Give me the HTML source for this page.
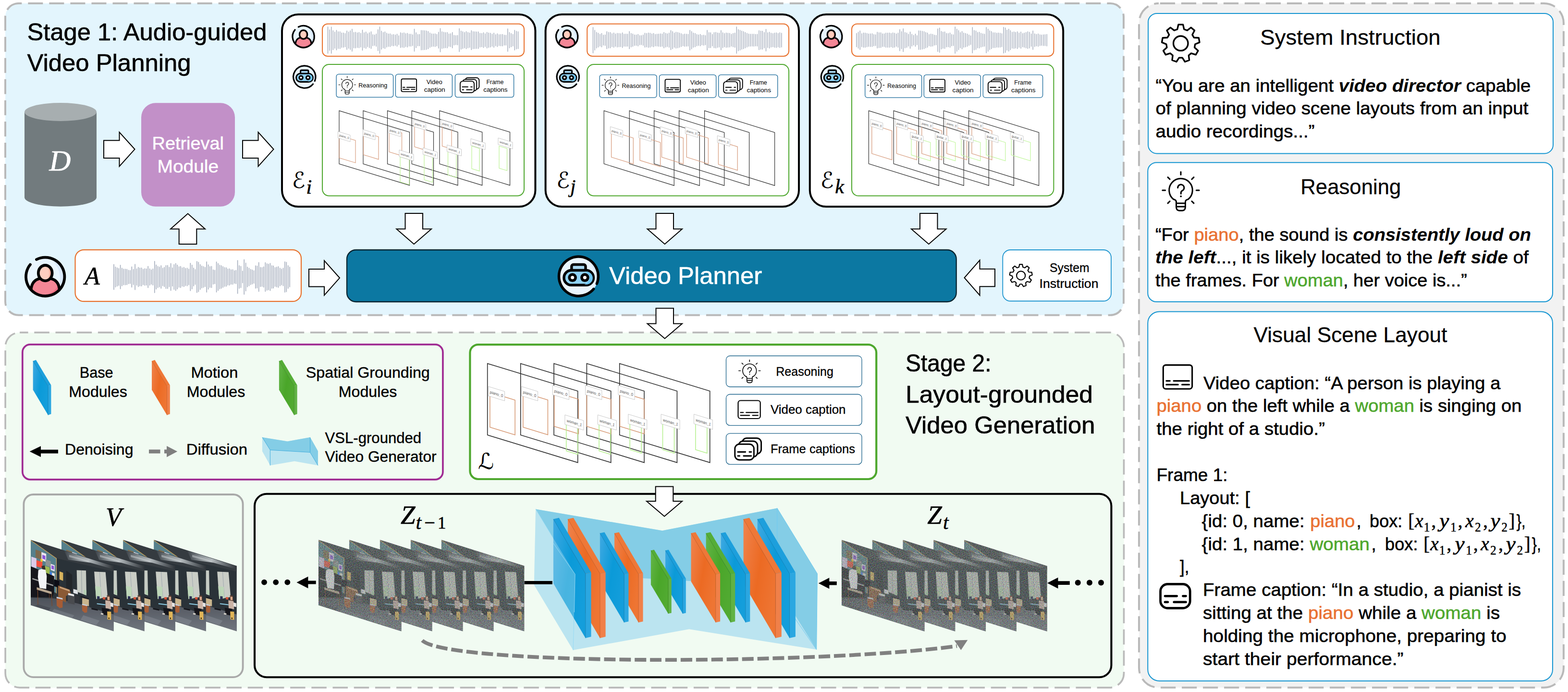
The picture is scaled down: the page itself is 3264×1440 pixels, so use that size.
<!DOCTYPE html>
<html><head><meta charset="utf-8"><title>figure</title>
<style>html,body{margin:0;padding:0;background:#fff;overflow:hidden}svg{display:block}text{white-space:pre}</style>
</head><body>
<svg width="3264" height="1440" viewBox="0 0 3264 1440">
<defs><clipPath id="fc"><polygon points="0,0 172.75,54.3 172.75,190.55 0,136.25"/></clipPath><linearGradient id="ceil" x1="0" y1="0" x2="1" y2="0"><stop offset="0" stop-color="#3b4147"/><stop offset="0.28" stop-color="#8d9498"/><stop offset="0.5" stop-color="#b4babd"/><stop offset="0.75" stop-color="#6a7075"/><stop offset="1" stop-color="#2e3338"/></linearGradient><linearGradient id="flr" x1="0" y1="0" x2="0" y2="1"><stop offset="0" stop-color="#4d525a"/><stop offset="1" stop-color="#70757e"/></linearGradient><g id="scene" clip-path="url(#fc)"><g filter="url(#sblur)"><polygon points="0,0 172.75,54.3 172.75,190.55 0,136.25" fill="#2c3137"/><polygon points="0.0,0.0 172.8,54.3 172.8,66.2 54.5,38.8" fill="#353b41" /><polygon points="69.6,22.7 172.8,55.3 172.8,61.5 124.5,47.7 78.1,41.6" fill="url(#ceil)" /><polygon points="80.0,31.4 120.7,43.5 120.7,46.2 80.0,36.0" fill="#d5dadc" opacity="0.45"/><polygon points="0.0,1.5 53.0,39.4 53.0,110.7 0.0,92.7" fill="#56808c" /><polyline points="0.0,1.1 53.4,39.0 53.4,111.6" fill="none" stroke="#c9a45e" stroke-width="1.3"/><polygon points="10.0,20.4 21.9,24.6 21.9,41.6 10.0,36.9" fill="#7c6b4f" /><polygon points="22.3,25.5 32.2,29.3 32.2,46.4 22.3,42.6" fill="#ece6f0" /><polygon points="24.2,31.2 30.5,33.5 30.5,41.6 24.2,39.4" fill="#8a55d8" /><polygon points="1.1,35.0 11.9,38.8 11.9,59.6 1.1,55.8" fill="#dccbe8" /><polygon points="11.9,42.6 24.2,46.4 24.2,59.0 11.9,55.3" fill="#f4503c" /><polygon points="20.4,39.4 24.6,40.7 24.6,46.4 20.4,45.0" fill="#f7c531" /><polygon points="30.8,40.7 41.6,44.5 41.6,57.1 30.8,53.4" fill="#8d9393" /><polygon points="29.9,54.3 39.4,57.5 39.4,73.4 29.9,70.4" fill="#9db851" /><polygon points="41.6,50.1 49.8,53.0 49.8,65.8 41.6,62.8" fill="#ece6f0" /><polygon points="43.1,53.0 48.4,54.9 48.4,62.4 43.1,60.5" fill="#8a55d8" /><polygon points="39.7,66.2 44.1,67.7 44.1,76.1 39.7,74.6" fill="#3f7fe2" /><polygon points="44.3,68.5 49.8,70.4 49.8,85.5 44.3,83.6" fill="#efebe6" /><polygon points="0.0,55.3 14.8,61.5 48.8,75.7 48.8,109.7 45.0,119.2 0.0,119.2" fill="#14161a" /><polygon points="3.4,79.5 46.9,93.7 46.9,96.5 3.4,82.3" fill="#d8d8d8" opacity="0.7"/><polygon points="22.3,54.9 28.9,53.4 30.8,61.5 24.2,63.4" fill="#3a302c" /><polygon points="15.7,63.4 22.3,60.9 30.8,62.8 33.3,75.7 32.2,102.6 18.5,100.3 14.8,77.6" fill="#f3f4f7" /><polygon points="17.6,100.3 32.2,102.9 34.6,119.2 20.4,117.3" fill="#1b1d22" /><polygon points="12.5,98.8 43.5,108.2 43.5,113.2 12.5,103.7" fill="#b8a68f" /><polyline points="14.4,103.7 15.1,135.3" fill="none" stroke="#7b4a2b" stroke-width="1.2"/><polyline points="43.1,113.2 44.3,138.1" fill="none" stroke="#7b4a2b" stroke-width="1.2"/><polyline points="38.6,111.6 39.2,132.5" fill="none" stroke="#6b3f25" stroke-width="1.0"/><polygon points="0.0,120.2 48.8,122.0 98.0,132.5 135.9,144.7 172.8,155.2 172.8,190.5 0.0,136.2" fill="url(#flr)" /><polygon points="48.8,143.8 90.4,157.0 82.9,168.4 41.2,153.3" fill="#7e848e" opacity="0.5"/><polygon points="109.4,157.0 143.4,168.4 135.9,177.9 103.7,166.5" fill="#868c96" opacity="0.5"/><polygon points="14.8,134.3 41.2,141.9 37.5,147.6 9.1,138.1" fill="#3f444b" opacity="0.6"/><polyline points="14.4,119.2 15.1,135.3" fill="none" stroke="#7b4a2b" stroke-width="1.2"/><polyline points="43.5,119.2 44.3,138.1" fill="none" stroke="#7b4a2b" stroke-width="1.2"/><polygon points="59.8,65.8 67.4,68.5 67.4,85.5 59.8,82.5" fill="#d8b35c" /><polygon points="73.8,64.0 86.1,72.8 86.1,107.9 73.8,100.3" fill="#22262b" /><polygon points="48.8,82.3 59.4,85.5 59.4,100.3 48.8,96.9" fill="#0f1114" /><polygon points="56.8,95.0 81.0,103.7 83.3,111.6 73.4,117.3 73.4,130.6 57.3,123.0" fill="#8b5a35" /><polygon points="60.2,97.4 81.0,104.4 81.0,107.9 60.2,100.3" fill="#c9a27a" /><polygon points="76.3,113.2 91.4,117.3 91.4,134.7 77.2,131.7" fill="#484b4f" /><polygon points="78.1,110.7 90.4,113.9 90.1,117.7 77.6,114.7" fill="#e8e8ea" /><polygon points="88.6,102.2 98.0,105.0 98.0,113.5 88.6,110.7" fill="#dfe2e6" /><polygon points="92.3,115.4 100.9,117.7 100.9,132.5 92.3,130.2" fill="#33363a" /><polygon points="53.5,119.2 66.8,122.6 66.2,141.0 60.2,142.3 54.1,137.2" fill="#a55b35" /><polygon points="53.9,118.6 66.2,121.5 66.6,124.5 53.9,121.5" fill="#c5d2e2" /><polygon points="95.7,63.4 115.0,64.0 116.0,115.8 96.7,108.2" fill="#c6cbc4" /><polyline points="105.6,63.8 106.3,111.6" fill="none" stroke="#8f979c" stroke-width="0.9"/><polygon points="110.3,104.1 116.0,105.6 116.0,115.4 110.3,113.9" fill="#b5cfb2" /><polygon points="132.1,66.2 155.7,67.4 160.1,119.2 136.2,123.4" fill="#c9cdc6" /><polyline points="143.4,67.0 146.8,119.2" fill="none" stroke="#9aa3ab" stroke-width="0.9"/><polygon points="134.0,96.5 145.7,98.0 146.5,122.0 136.2,123.0" fill="#bdd6b8" /><polygon points="138.1,117.3 143.4,117.7 143.4,123.0 138.1,123.0" fill="#2a2d55" /><polygon points="150.0,119.2 155.2,119.6 155.2,124.5 150.0,124.1" fill="#d4553a" /><polygon points="103.7,116.9 120.7,121.5 120.7,124.1 103.7,119.6" fill="#1a1c20" /><polygon points="107.1,120.7 121.1,124.5 121.1,138.5 107.1,134.0" fill="#c9b58d" /><polygon points="106.5,134.0 117.9,136.6 117.3,151.0 112.2,152.1 107.1,147.6" fill="#a85f38" /><polygon points="106.9,133.2 117.7,135.7 117.9,138.1 106.9,135.9" fill="#c5d2e2" /><polygon points="137.7,132.1 155.7,134.3 155.7,136.2 137.7,134.0" fill="#8fd0e8" /><polygon points="126.4,141.9 139.6,144.7 139.6,147.6 126.4,144.7" fill="#15171a" /><polygon points="158.6,115.4 164.6,116.4 165.8,130.6 158.6,128.7" fill="#5a4034" /><polygon points="159.5,118.3 163.9,118.8 163.9,125.8 159.7,125.3" fill="#dcab8e" /><polygon points="155.2,125.8 166.1,127.7 167.3,144.7 155.9,142.3" fill="#ccb4a6" /><polygon points="165.8,130.6 171.8,132.1 171.8,140.0 166.1,138.9" fill="#e6e4e2" /><polygon points="147.6,141.5 163.3,143.8 161.4,158.0 149.5,155.2" fill="#17181b" /><polygon points="146.3,152.3 151.4,153.3 151.0,156.1 145.7,155.2" fill="#d8d4cc" /><polygon points="159.1,149.1 167.3,149.9 167.3,166.9 159.7,165.8" fill="#e1b559" /><polygon points="161.6,161.8 163.9,162.0 163.9,165.0 161.6,164.8" fill="#3a2a18" /></g></g><filter id="sblur" x="-0.02" y="-0.02" width="1.04" height="1.04"><feGaussianBlur stdDeviation="0.45"/></filter><filter id="nz" x="0" y="0" width="1" height="1" color-interpolation-filters="sRGB"><feTurbulence type="fractalNoise" baseFrequency="0.5" numOctaves="2" seed="7" result="t"/><feColorMatrix in="t" type="matrix" values="1.6 0.3 0.3 0 -0.6  0.3 1.6 0.3 0 -0.6  0.3 0.3 1.6 0 -0.6  0 0 0 0 0.29" result="n"/><feComposite in="n" in2="SourceGraphic" operator="in"/></filter><linearGradient id="gb" x1="0" y1="0" x2="1" y2="0.6"><stop offset="0" stop-color="#3fa9e2"/><stop offset="0.55" stop-color="#0b9ad8"/><stop offset="1" stop-color="#149edb"/></linearGradient><linearGradient id="go" x1="0" y1="0" x2="1" y2="0.6"><stop offset="0" stop-color="#f0834d"/><stop offset="0.55" stop-color="#ec6a23"/><stop offset="1" stop-color="#ee7533"/></linearGradient><linearGradient id="gg" x1="0" y1="0" x2="1" y2="0.6"><stop offset="0" stop-color="#64b549"/><stop offset="0.55" stop-color="#4aa629"/><stop offset="1" stop-color="#51aa31"/></linearGradient></defs>
<rect width="3264" height="1440" fill="#fff"/>
<rect x="11.0" y="7.0" width="2328.0" height="648.8" rx="28" fill="#e3f5fd" stroke="#b9b9b9" stroke-width="4" stroke-dasharray="31 13.04" stroke-dashoffset="24.7"/>
<text x="56.5" y="84.0" font-size="50" font-family="Liberation Sans, sans-serif" textLength="499.0" lengthAdjust="spacingAndGlyphs" fill="#000"  stroke="#000" stroke-width="0.60" stroke-linejoin="round">Stage 1: Audio-guided</text>
<text x="56.5" y="148.0" font-size="50" font-family="Liberation Sans, sans-serif" textLength="341.0" lengthAdjust="spacingAndGlyphs" fill="#000"  stroke="#000" stroke-width="0.60" stroke-linejoin="round">Video Planning</text>
<path d="M51 233 V410.7 A75 19 0 0 0 201 410.7 V233 Z" fill="#727b7e"/>
<ellipse cx="126" cy="233" rx="75" ry="19" fill="#a7aeb0"/>
<text x="102.5" y="354.6" font-size="62" font-family="Liberation Serif, serif" font-style="italic" fill="#fff" stroke="#fff" stroke-width="0.7" stroke-linejoin="round">D</text>
<polygon points="216.0,292.3 248.5,292.3 248.5,275.1 280.5,310.6 248.5,346.1 248.5,328.9 216.0,328.9" fill="#fff" stroke="#000" stroke-width="2" stroke-linejoin="miter"/>
<rect x="294.0" y="214.3" width="195.0" height="215.4" rx="30" fill="#c290c8" stroke="none" stroke-width="0" />
<text x="391.3" y="310.8" font-size="37.3" font-family="Liberation Sans, sans-serif" text-anchor="middle" textLength="149.5" lengthAdjust="spacingAndGlyphs" fill="#fff"  stroke="#fff" stroke-width="0.45" stroke-linejoin="round">Retrieval</text>
<text x="391.3" y="358.7" font-size="37.3" font-family="Liberation Sans, sans-serif" text-anchor="middle" textLength="127.5" lengthAdjust="spacingAndGlyphs" fill="#fff"  stroke="#fff" stroke-width="0.45" stroke-linejoin="round">Module</text>
<polygon points="505.0,292.3 537.5,292.3 537.5,275.1 569.5,310.6 537.5,346.1 537.5,328.9 505.0,328.9" fill="#fff" stroke="#000" stroke-width="2" stroke-linejoin="miter"/>
<polygon points="372.7,508.0 372.7,476.5 355.0,476.5 391.0,444.5 427.0,476.5 409.3,476.5 409.3,508.0" fill="#fff" stroke="#000" stroke-width="2"/>
<rect x="587.0" y="30.0" width="527.4" height="400.0" rx="34" fill="#fff" stroke="#000" stroke-width="4" /><g transform="translate(631.6,76.2) scale(0.5638)"><circle r="40.2" fill="#e9f5fe"/><path d="M8 -39 A40.2 40.2 0 0 1 22 33 A52 52 0 0 0 8 -39Z" fill="#d9e9fb"/><path d="M-29.5 26 C-28 12 -21 6 -12 4 L12 4 C21 6 28 12 29.5 26 A40.2 40.2 0 0 1 -29.5 26Z" fill="#f48796"/><path d="M24 22 C20 30 10 36 -2 38 A40.2 40.2 0 0 0 29.5 26 L27 16Z" fill="#ef7085"/><path d="M-29.5 26 C-28 12 -21 6 -12 4 M12 4 C21 6 28 12 29.5 26" fill="none" stroke="#000" stroke-width="5.8" stroke-linecap="round"/><ellipse cx="0" cy="-7.6" rx="14.4" ry="16.2" fill="#ffcebf"/><path d="M3 -23.4 C20 -22 20 7 3 8.2 C10 2 10 -17 3 -23.4Z" fill="#ffb1a0"/><ellipse cx="0" cy="-7.6" rx="14.4" ry="16.2" fill="none" stroke="#000" stroke-width="5.8"/><path d="M-18.25 -35.82A40.20 40.20 0 1 1 -31.24 -25.30" fill="none" stroke="#000" stroke-width="5.8" stroke-linecap="round"/></g><g transform="translate(633.8,160.0) scale(0.5639)"><circle r="41.05" fill="#e9f5fe"/><path d="M14 -38.5 A41 41 0 0 1 30 28 A55 55 0 0 0 14 -38.5Z" fill="#d9e9fb"/><rect x="-14.6" y="-24.6" width="29.2" height="14" rx="4" fill="#a9daf5" stroke="#000" stroke-width="5.5"/><rect x="-30.5" y="-12.5" width="61.6" height="30.9" rx="15.45" fill="#8fd3f6" stroke="#000" stroke-width="5.5"/><path d="M12 -10 A14 14 0 0 1 12 17 L16 17 A13.5 13.5 0 0 0 16 -10Z" fill="#6cc4f2"/><circle cx="-12.8" cy="2.6" r="9.3" fill="#000"/><circle cx="-12.8" cy="2.6" r="3.6" fill="#fff"/><circle cx="13" cy="2.6" r="9.3" fill="#000"/><circle cx="13" cy="2.6" r="3.6" fill="#fff"/><path d="M31.45 26.39A41.05 41.05 0 1 1 38.06 15.38" fill="none" stroke="#000" stroke-width="5.5" stroke-linecap="round"/></g><rect x="671.0" y="49.8" width="420.0" height="67.2" rx="11" fill="#fff" stroke="#e8712d" stroke-width="2" /><path d="M682.5 56.1V111.1M686.1 62.1V105.1M689.7 56.2V111.0M693.3 63.7V103.5M696.9 66.8V100.4M700.5 63.1V104.1M704.1 66.1V101.1M707.7 65.9V101.3M711.3 68.4V98.8M714.9 68.6V98.6M718.5 69.7V97.5M722.1 64.2V103.0M725.7 66.8V100.4M729.3 64.1V103.1M732.9 60.5V106.7M736.5 67.4V99.8M740.1 67.1V100.1M743.7 68.2V99.0M747.3 67.6V99.6M750.9 69.2V98.0M754.5 62.5V104.7M758.1 68.0V99.2M761.7 66.4V100.8M765.3 70.0V97.2M768.9 68.0V99.2M772.5 66.1V101.1M776.1 71.9V95.3M779.7 72.7V94.5M783.3 70.7V96.5M786.9 61.7V105.5M790.5 56.1V111.1M794.1 64.8V102.4M797.7 67.5V99.7M801.3 66.3V100.9M804.9 69.1V98.1M808.5 70.4V96.8M812.1 70.3V96.9M815.7 72.3V94.9M819.3 71.8V95.4M822.9 72.8V94.4M826.5 71.0V96.2M830.1 74.2V93.0M833.7 68.1V99.1M837.3 68.9V98.3M840.9 68.2V99.0M844.5 70.1V97.1M848.1 69.2V98.0M851.7 71.1V96.1M855.3 71.0V96.2M858.9 72.3V94.9M862.5 60.5V106.7M866.1 67.9V99.3M869.7 71.7V95.5M873.3 71.6V95.6M876.9 63.2V104.0M880.5 63.4V103.8M884.1 63.8V103.4M887.7 64.3V102.9M891.3 65.6V101.6M894.9 68.5V98.7M898.5 70.3V96.9M902.1 70.6V96.6M905.7 70.3V96.9M909.3 71.4V95.8M912.9 66.9V100.3M916.5 59.3V107.9M920.1 66.1V101.1M923.7 67.1V100.1M927.3 67.8V99.4M930.9 67.4V99.8M934.5 70.6V96.6M938.1 69.9V97.3M941.7 67.4V99.8M945.3 73.4V93.8M948.9 74.1V93.1M952.5 73.8V93.4M956.1 59.6V107.6M959.7 64.6V102.6M963.3 66.1V101.1M966.9 67.5V99.7M970.5 65.7V101.5M974.1 67.5V99.7M977.7 68.5V98.7M981.3 63.7V103.5M984.9 65.7V101.5M988.5 65.9V101.3M992.1 66.3V100.9M995.7 66.3V100.9M999.3 69.3V97.9M1002.9 69.6V97.6M1006.5 68.1V99.1M1010.1 70.3V96.9M1013.7 67.2V100.0M1017.3 68.5V98.7M1020.9 69.1V98.1M1024.5 71.0V96.2M1028.1 68.8V98.4M1031.7 72.0V95.2M1035.3 70.2V97.0M1038.9 72.1V95.1M1042.5 71.7V95.5M1046.1 71.5V95.7M1049.7 73.1V94.1M1053.3 73.3V93.9M1056.9 60.1V107.1M1060.5 67.5V99.7M1064.1 69.7V97.5M1067.7 71.5V95.7M1071.3 62.9V104.3M1074.9 65.1V102.1M1078.5 66.0V101.2" stroke="#a6aebd" stroke-width="1.5" stroke-opacity="1" fill="none" stroke-linecap="round"/><rect x="671.0" y="134.0" width="420.0" height="273.6" rx="14" fill="#fff" stroke="#4ea72e" stroke-width="2" /><rect x="700.1" y="154.4" width="118.5" height="48.0" rx="5" fill="#fff" stroke="#1a6a9a" stroke-width="1.3" /><rect x="823.4" y="154.4" width="118.0" height="48.0" rx="5" fill="#fff" stroke="#1a6a9a" stroke-width="1.3" /><rect x="947.4" y="154.4" width="122.2" height="48.0" rx="5" fill="#fff" stroke="#1a6a9a" stroke-width="1.3" /><path d="M718.33 192.24 V187.70 Q718.33 185.76 715.65 185.20 A11.20 11.20 0 1 1 729.75 185.20 Q727.07 185.76 727.07 187.70 V192.24" fill="none" stroke="#000" stroke-width="1.2" stroke-linecap="round" stroke-linejoin="round"/><path d="M718.33 188.99H727.07 M718.33 192.24 H727.07 M718.33 192.24 Q718.33 195.99 721.17 195.99 H724.23 Q727.07 195.99 727.07 192.24" fill="none" stroke="#000" stroke-width="1.2" stroke-linecap="round"/><path d="M722.70 161.60L722.70 158.92M733.23 165.97L735.13 164.07M712.17 165.97L710.27 164.07M737.60 176.50L740.28 176.50M707.80 176.50L705.12 176.50M733.23 187.03L735.13 188.93M712.17 187.03L710.27 188.93" stroke="#000" stroke-width="1.2" stroke-linecap="round" fill="none"/><g transform="translate(722.70,176.50) scale(0.4609)"><path d="M-6.3 -5.2A6.6 6.6 0 1 1 4.5 -0.1Q0.3 1.8 0.3 5V7.3" fill="none" stroke="#000" stroke-width="2.60" stroke-linecap="round"/><circle cx="0.2" cy="12.7" r="1.61" fill="#000"/></g><text x="746.3" y="182.2" font-size="13.3" font-family="Liberation Sans, sans-serif" textLength="60.0" lengthAdjust="spacingAndGlyphs" fill="#000" >Reasoning</text><rect x="835.40" y="164.20" width="31.70" height="26.40" rx="3" fill="none" stroke="#000" stroke-width="1.9"/><path d="M838.86 181.73H842.75M846.86 181.73H863.77M838.86 185.87H851.63M856.07 185.87H863.77" stroke="#000" stroke-width="1.99" fill="none" stroke-linecap="round"/><text x="904.2" y="174.6" font-size="13.3" font-family="Liberation Sans, sans-serif" text-anchor="middle" textLength="33.0" lengthAdjust="spacingAndGlyphs" fill="#000" >Video</text><text x="904.7" y="190.8" font-size="13.3" font-family="Liberation Sans, sans-serif" text-anchor="middle" textLength="44.0" lengthAdjust="spacingAndGlyphs" fill="#000" >caption</text><rect x="968.30" y="161.70" width="29.10" height="23.80" rx="5.5" fill="#fff" stroke="#000" stroke-width="1.9"/><rect x="963.10" y="165.30" width="29.10" height="23.80" rx="5.5" fill="#fff" stroke="#000" stroke-width="1.9"/><rect x="957.90" y="168.90" width="29.10" height="23.80" rx="5.5" fill="#fff" stroke="#000" stroke-width="1.9"/><path d="M962.38 180.73H973.99M980.05 180.73H982.87M962.38 186.70H965.12M971.20 186.70H982.87" stroke="#000" stroke-width="1.90" fill="none" stroke-linecap="round"/><text x="1030.4" y="174.6" font-size="13.3" font-family="Liberation Sans, sans-serif" text-anchor="middle" textLength="36.0" lengthAdjust="spacingAndGlyphs" fill="#000" >Frame</text><text x="1031.4" y="190.8" font-size="13.3" font-family="Liberation Sans, sans-serif" text-anchor="middle" textLength="50.5" lengthAdjust="spacingAndGlyphs" fill="#000" >captions</text><polygon points="915.0,230.4 1061.5,275.0 1061.5,385.6 915.0,341.0" fill="none" stroke="#2e2e2e" stroke-width="1.15"/><polygon points="857.2,230.4 1003.7,275.0 1003.7,385.6 857.2,341.0" fill="none" stroke="#2e2e2e" stroke-width="1.15"/><polygon points="806.5,230.4 953.0,275.0 953.0,385.6 806.5,341.0" fill="none" stroke="#2e2e2e" stroke-width="1.15"/><polygon points="756.0,230.4 902.5,275.0 902.5,385.6 756.0,341.0" fill="none" stroke="#2e2e2e" stroke-width="1.15"/><polygon points="706.0,230.4 852.5,275.0 852.5,385.6 706.0,341.0" fill="none" stroke="#2e2e2e" stroke-width="1.15"/><polygon points="706.0,282.0 740.0,292.3 740.0,338.8 706.0,328.5" fill="none" stroke="#d9a184" stroke-width="1.2"/><polygon points="756.5,275.0 788.0,284.6 788.0,331.6 756.5,322.0" fill="none" stroke="#d9a184" stroke-width="1.2"/><polygon points="810.0,268.5 836.5,276.6 836.5,324.1 810.0,316.0" fill="none" stroke="#d9a184" stroke-width="1.2"/><polygon points="863.0,258.5 883.0,264.6 883.0,311.6 863.0,305.5" fill="none" stroke="#d9a184" stroke-width="1.2"/><polygon points="920.5,257.0 940.0,262.9 940.0,309.9 920.5,304.0" fill="none" stroke="#d9a184" stroke-width="1.2"/><polygon points="833.0,326.5 852.0,332.3 852.0,384.3 833.0,378.5" fill="none" stroke="#bdf296" stroke-width="1.2"/><polygon points="883.0,322.0 900.5,327.3 900.5,379.3 883.0,374.0" fill="none" stroke="#bdf296" stroke-width="1.2"/><polygon points="932.5,313.0 950.0,318.3 950.0,369.3 932.5,364.0" fill="none" stroke="#bdf296" stroke-width="1.2"/><polygon points="982.0,304.0 998.0,308.9 998.0,355.9 982.0,351.0" fill="none" stroke="#bdf296" stroke-width="1.2"/><polygon points="1039.0,304.0 1055.5,309.0 1055.5,355.0 1039.0,350.0" fill="none" stroke="#bdf296" stroke-width="1.2"/><polygon points="703.5,273.5 729.0,281.3 729.0,294.9 703.5,287.1" fill="#fff" stroke="#c4c4c4" stroke-width="0.9"/><text transform="matrix(1,0.304,0,1,706.0,283.5)" font-size="6.6" font-family="Liberation Sans, sans-serif" font-style="italic" fill="#555" textLength="20.4" lengthAdjust="spacingAndGlyphs">piano_0</text><polygon points="755.5,269.5 781.0,277.3 781.0,290.9 755.5,283.1" fill="#fff" stroke="#c4c4c4" stroke-width="0.9"/><text transform="matrix(1,0.304,0,1,758.0,279.5)" font-size="6.6" font-family="Liberation Sans, sans-serif" font-style="italic" fill="#555" textLength="20.4" lengthAdjust="spacingAndGlyphs">piano_0</text><polygon points="808.5,263.0 834.0,270.8 834.0,284.4 808.5,276.6" fill="#fff" stroke="#c4c4c4" stroke-width="0.9"/><text transform="matrix(1,0.304,0,1,811.0,273.0)" font-size="6.6" font-family="Liberation Sans, sans-serif" font-style="italic" fill="#555" textLength="20.4" lengthAdjust="spacingAndGlyphs">piano_0</text><polygon points="861.0,249.5 886.5,257.3 886.5,270.9 861.0,263.1" fill="#fff" stroke="#c4c4c4" stroke-width="0.9"/><text transform="matrix(1,0.304,0,1,863.5,259.5)" font-size="6.6" font-family="Liberation Sans, sans-serif" font-style="italic" fill="#555" textLength="20.4" lengthAdjust="spacingAndGlyphs">piano_0</text><polygon points="918.0,249.0 943.5,256.8 943.5,270.4 918.0,262.6" fill="#fff" stroke="#c4c4c4" stroke-width="0.9"/><text transform="matrix(1,0.304,0,1,920.5,259.0)" font-size="6.6" font-family="Liberation Sans, sans-serif" font-style="italic" fill="#555" textLength="20.4" lengthAdjust="spacingAndGlyphs">piano_0</text><polygon points="831.0,312.0 861.0,321.1 861.0,334.9 831.0,325.8" fill="#fff" stroke="#c4c4c4" stroke-width="0.9"/><text transform="matrix(1,0.304,0,1,834.0,322.3)" font-size="6.6" font-family="Liberation Sans, sans-serif" font-style="italic" fill="#555" textLength="24.0" lengthAdjust="spacingAndGlyphs">woman_1</text><polygon points="880.5,307.5 910.5,316.6 910.5,330.4 880.5,321.3" fill="#fff" stroke="#c4c4c4" stroke-width="0.9"/><text transform="matrix(1,0.304,0,1,883.5,317.8)" font-size="6.6" font-family="Liberation Sans, sans-serif" font-style="italic" fill="#555" textLength="24.0" lengthAdjust="spacingAndGlyphs">woman_1</text><polygon points="930.5,301.5 960.5,310.6 960.5,324.4 930.5,315.3" fill="#fff" stroke="#c4c4c4" stroke-width="0.9"/><text transform="matrix(1,0.304,0,1,933.5,311.8)" font-size="6.6" font-family="Liberation Sans, sans-serif" font-style="italic" fill="#555" textLength="24.0" lengthAdjust="spacingAndGlyphs">woman_1</text><polygon points="980.0,288.5 1010.0,297.6 1010.0,311.4 980.0,302.3" fill="#fff" stroke="#c4c4c4" stroke-width="0.9"/><text transform="matrix(1,0.304,0,1,983.0,298.8)" font-size="6.6" font-family="Liberation Sans, sans-serif" font-style="italic" fill="#555" textLength="24.0" lengthAdjust="spacingAndGlyphs">woman_1</text><polygon points="1037.0,287.0 1067.0,296.1 1067.0,309.9 1037.0,300.8" fill="#fff" stroke="#c4c4c4" stroke-width="0.9"/><text transform="matrix(1,0.304,0,1,1040.0,297.3)" font-size="6.6" font-family="Liberation Sans, sans-serif" font-style="italic" fill="#555" textLength="24.0" lengthAdjust="spacingAndGlyphs">woman_1</text><text x="607.5" y="391.2" font-size="46" font-family="DejaVu Sans, DejaVu Serif, serif" fill="#000">ℰ</text>
<rect x="1135.6" y="30.0" width="527.4" height="400.0" rx="34" fill="#fff" stroke="#000" stroke-width="4" /><g transform="translate(1180.2,76.2) scale(0.5638)"><circle r="40.2" fill="#e9f5fe"/><path d="M8 -39 A40.2 40.2 0 0 1 22 33 A52 52 0 0 0 8 -39Z" fill="#d9e9fb"/><path d="M-29.5 26 C-28 12 -21 6 -12 4 L12 4 C21 6 28 12 29.5 26 A40.2 40.2 0 0 1 -29.5 26Z" fill="#f48796"/><path d="M24 22 C20 30 10 36 -2 38 A40.2 40.2 0 0 0 29.5 26 L27 16Z" fill="#ef7085"/><path d="M-29.5 26 C-28 12 -21 6 -12 4 M12 4 C21 6 28 12 29.5 26" fill="none" stroke="#000" stroke-width="5.8" stroke-linecap="round"/><ellipse cx="0" cy="-7.6" rx="14.4" ry="16.2" fill="#ffcebf"/><path d="M3 -23.4 C20 -22 20 7 3 8.2 C10 2 10 -17 3 -23.4Z" fill="#ffb1a0"/><ellipse cx="0" cy="-7.6" rx="14.4" ry="16.2" fill="none" stroke="#000" stroke-width="5.8"/><path d="M-18.25 -35.82A40.20 40.20 0 1 1 -31.24 -25.30" fill="none" stroke="#000" stroke-width="5.8" stroke-linecap="round"/></g><g transform="translate(1182.3,160.0) scale(0.5639)"><circle r="41.05" fill="#e9f5fe"/><path d="M14 -38.5 A41 41 0 0 1 30 28 A55 55 0 0 0 14 -38.5Z" fill="#d9e9fb"/><rect x="-14.6" y="-24.6" width="29.2" height="14" rx="4" fill="#a9daf5" stroke="#000" stroke-width="5.5"/><rect x="-30.5" y="-12.5" width="61.6" height="30.9" rx="15.45" fill="#8fd3f6" stroke="#000" stroke-width="5.5"/><path d="M12 -10 A14 14 0 0 1 12 17 L16 17 A13.5 13.5 0 0 0 16 -10Z" fill="#6cc4f2"/><circle cx="-12.8" cy="2.6" r="9.3" fill="#000"/><circle cx="-12.8" cy="2.6" r="3.6" fill="#fff"/><circle cx="13" cy="2.6" r="9.3" fill="#000"/><circle cx="13" cy="2.6" r="3.6" fill="#fff"/><path d="M31.45 26.39A41.05 41.05 0 1 1 38.06 15.38" fill="none" stroke="#000" stroke-width="5.5" stroke-linecap="round"/></g><rect x="1222.2" y="49.8" width="419.9" height="67.2" rx="11" fill="#fff" stroke="#e8712d" stroke-width="2" /><path d="M1234.5 57.0V110.2M1238.1 63.0V104.2M1241.7 67.3V99.9M1245.3 69.1V98.1M1248.9 71.2V96.0M1252.5 69.4V97.8M1256.1 73.1V94.1M1259.7 72.4V94.8M1263.3 65.8V101.4M1266.9 67.3V99.9M1270.5 67.5V99.7M1274.1 69.9V97.3M1277.7 68.6V98.6M1281.3 70.8V96.4M1284.9 69.2V98.0M1288.5 69.6V97.6M1292.1 69.9V97.3M1295.7 68.3V98.9M1299.3 71.0V96.2M1302.9 70.8V96.4M1306.5 71.0V96.2M1310.1 65.6V101.6M1313.7 69.5V97.7M1317.3 70.7V96.5M1320.9 72.5V94.7M1324.5 72.8V94.4M1328.1 71.4V95.8M1331.7 73.9V93.3M1335.3 74.1V93.1M1338.9 72.8V94.4M1342.5 69.0V98.2M1346.1 69.5V97.7M1349.7 68.5V98.7M1353.3 68.9V98.3M1356.9 70.6V96.6M1360.5 69.6V97.6M1364.1 71.5V95.7M1367.7 71.1V96.1M1371.3 70.8V96.4M1374.9 70.2V97.0M1378.5 70.8V96.4M1382.1 67.4V99.8M1385.7 69.3V97.9M1389.3 70.2V97.0M1392.9 68.8V98.4M1396.5 63.6V103.6M1400.1 65.7V101.5M1403.7 68.7V98.5M1407.3 66.9V100.3M1410.9 67.5V99.7M1414.5 68.8V98.4M1418.1 70.1V97.1M1421.7 71.7V95.5M1425.3 70.8V96.4M1428.9 70.9V96.3M1432.5 71.2V96.0M1436.1 62.9V104.3M1439.7 65.5V101.7M1443.3 68.7V98.5M1446.9 69.6V97.6M1450.5 71.8V95.4M1454.1 72.5V94.7M1457.7 71.6V95.6M1461.3 73.6V93.6M1464.9 73.0V94.2M1468.5 73.9V93.3M1472.1 63.0V104.2M1475.7 67.8V99.4M1479.3 67.9V99.3M1482.9 71.4V95.8M1486.5 67.8V99.4M1490.1 67.3V99.9M1493.7 68.5V98.7M1497.3 69.1V98.1M1500.9 63.5V103.7M1504.5 67.9V99.3M1508.1 69.7V97.5M1511.7 68.4V98.8M1515.3 68.9V98.3M1518.9 69.3V97.9M1522.5 71.3V95.9M1526.1 69.6V97.6M1529.7 68.8V98.4M1533.3 56.1V111.1M1536.9 61.5V105.7M1540.5 62.9V104.3M1544.1 64.6V102.6M1547.7 65.7V101.5M1551.3 67.4V99.8M1554.9 69.3V97.9M1558.5 70.8V96.4M1562.1 71.0V96.2M1565.7 71.1V96.1M1569.3 70.9V96.3M1572.9 71.5V95.7M1576.5 71.3V95.9M1580.1 63.8V103.4M1583.7 64.6V102.6M1587.3 64.8V102.4M1590.9 67.5V99.7M1594.5 61.0V106.2M1598.1 68.1V99.1M1601.7 67.0V100.2M1605.3 69.1V98.1M1608.9 69.8V97.4M1612.5 68.7V98.5M1616.1 68.2V99.0M1619.7 69.5V97.7M1623.3 68.1V99.1M1626.9 69.1V98.1" stroke="#a6aebd" stroke-width="1.5" stroke-opacity="1" fill="none" stroke-linecap="round"/><rect x="1222.2" y="134.0" width="419.9" height="273.6" rx="14" fill="#fff" stroke="#4ea72e" stroke-width="2" /><rect x="1248.2" y="155.6" width="118.9" height="47.5" rx="5" fill="#fff" stroke="#1a6a9a" stroke-width="1.3" /><rect x="1372.5" y="155.6" width="118.2" height="47.5" rx="5" fill="#fff" stroke="#1a6a9a" stroke-width="1.3" /><rect x="1495.7" y="155.6" width="123.1" height="47.5" rx="5" fill="#fff" stroke="#1a6a9a" stroke-width="1.3" /><path d="M1266.43 193.19 V188.65 Q1266.43 186.71 1263.75 186.15 A11.20 11.20 0 1 1 1277.85 186.15 Q1275.17 186.71 1275.17 188.65 V193.19" fill="none" stroke="#000" stroke-width="1.2" stroke-linecap="round" stroke-linejoin="round"/><path d="M1266.43 189.94H1275.17 M1266.43 193.19 H1275.17 M1266.43 193.19 Q1266.43 196.94 1269.27 196.94 H1272.33 Q1275.17 196.94 1275.17 193.19" fill="none" stroke="#000" stroke-width="1.2" stroke-linecap="round"/><path d="M1270.80 162.55L1270.80 159.87M1281.33 166.92L1283.23 165.02M1260.27 166.92L1258.37 165.02M1285.70 177.45L1288.38 177.45M1255.90 177.45L1253.22 177.45M1281.33 187.98L1283.23 189.88M1260.27 187.98L1258.37 189.88" stroke="#000" stroke-width="1.2" stroke-linecap="round" fill="none"/><g transform="translate(1270.80,177.45) scale(0.4609)"><path d="M-6.3 -5.2A6.6 6.6 0 1 1 4.5 -0.1Q0.3 1.8 0.3 5V7.3" fill="none" stroke="#000" stroke-width="2.60" stroke-linecap="round"/><circle cx="0.2" cy="12.7" r="1.61" fill="#000"/></g><text x="1294.4" y="183.2" font-size="13.3" font-family="Liberation Sans, sans-serif" textLength="60.0" lengthAdjust="spacingAndGlyphs" fill="#000" >Reasoning</text><rect x="1384.50" y="165.15" width="31.70" height="26.40" rx="3" fill="none" stroke="#000" stroke-width="1.9"/><path d="M1387.96 182.68H1391.85M1395.96 182.68H1412.87M1387.96 186.82H1400.73M1405.17 186.82H1412.87" stroke="#000" stroke-width="1.99" fill="none" stroke-linecap="round"/><text x="1453.3" y="175.5" font-size="13.3" font-family="Liberation Sans, sans-serif" text-anchor="middle" textLength="33.0" lengthAdjust="spacingAndGlyphs" fill="#000" >Video</text><text x="1453.8" y="191.8" font-size="13.3" font-family="Liberation Sans, sans-serif" text-anchor="middle" textLength="44.0" lengthAdjust="spacingAndGlyphs" fill="#000" >caption</text><rect x="1516.60" y="162.65" width="29.10" height="23.80" rx="5.5" fill="#fff" stroke="#000" stroke-width="1.9"/><rect x="1511.40" y="166.25" width="29.10" height="23.80" rx="5.5" fill="#fff" stroke="#000" stroke-width="1.9"/><rect x="1506.20" y="169.85" width="29.10" height="23.80" rx="5.5" fill="#fff" stroke="#000" stroke-width="1.9"/><path d="M1510.68 181.68H1522.29M1528.35 181.68H1531.17M1510.68 187.65H1513.42M1519.50 187.65H1531.17" stroke="#000" stroke-width="1.90" fill="none" stroke-linecap="round"/><text x="1578.7" y="175.5" font-size="13.3" font-family="Liberation Sans, sans-serif" text-anchor="middle" textLength="36.0" lengthAdjust="spacingAndGlyphs" fill="#000" >Frame</text><text x="1579.7" y="191.8" font-size="13.3" font-family="Liberation Sans, sans-serif" text-anchor="middle" textLength="50.5" lengthAdjust="spacingAndGlyphs" fill="#000" >captions</text><polygon points="1466.6,230.4 1612.6,275.6 1612.6,386.1 1466.6,340.9" fill="none" stroke="#2e2e2e" stroke-width="1.15"/><polygon points="1413.6,230.4 1559.6,275.6 1559.6,386.1 1413.6,340.9" fill="none" stroke="#2e2e2e" stroke-width="1.15"/><polygon points="1361.6,230.4 1507.6,275.6 1507.6,386.1 1361.6,340.9" fill="none" stroke="#2e2e2e" stroke-width="1.15"/><polygon points="1310.2,230.4 1456.2,275.6 1456.2,386.1 1310.2,340.9" fill="none" stroke="#2e2e2e" stroke-width="1.15"/><polygon points="1257.2,230.4 1403.2,275.6 1403.2,386.1 1257.2,340.9" fill="none" stroke="#2e2e2e" stroke-width="1.15"/><polygon points="1272.6,273.0 1318.3,287.2 1318.3,341.2 1272.6,327.0" fill="none" stroke="#d9a184" stroke-width="1.3"/><polygon points="1332.0,283.2 1374.6,296.4 1374.6,346.9 1332.0,333.7" fill="none" stroke="#d9a184" stroke-width="1.3"/><polygon points="1377.5,273.4 1422.3,287.3 1422.3,341.0 1377.5,327.1" fill="none" stroke="#d9a184" stroke-width="1.3"/><polygon points="1429.3,273.4 1474.4,287.4 1474.4,341.1 1429.3,327.1" fill="none" stroke="#d9a184" stroke-width="1.3"/><polygon points="1495.4,293.0 1535.2,305.3 1535.2,354.3 1495.4,342.0" fill="none" stroke="#d9a184" stroke-width="1.3"/><polygon points="1270.4,263.5 1296.4,271.6 1296.4,285.8 1270.4,277.7" fill="#fff" stroke="#c4c4c4" stroke-width="0.9"/><text transform="matrix(1,0.310,0,1,1273.0,274.0)" font-size="6.6" font-family="Liberation Sans, sans-serif" font-style="italic" fill="#555" textLength="20.8" lengthAdjust="spacingAndGlyphs">piano_0</text><polygon points="1329.5,272.2 1355.5,280.3 1355.5,294.5 1329.5,286.4" fill="#fff" stroke="#c4c4c4" stroke-width="0.9"/><text transform="matrix(1,0.310,0,1,1332.1,282.7)" font-size="6.6" font-family="Liberation Sans, sans-serif" font-style="italic" fill="#555" textLength="20.8" lengthAdjust="spacingAndGlyphs">piano_0</text><polygon points="1374.6,263.5 1400.6,271.6 1400.6,285.8 1374.6,277.7" fill="#fff" stroke="#c4c4c4" stroke-width="0.9"/><text transform="matrix(1,0.310,0,1,1377.2,274.0)" font-size="6.6" font-family="Liberation Sans, sans-serif" font-style="italic" fill="#555" textLength="20.8" lengthAdjust="spacingAndGlyphs">piano_0</text><polygon points="1426.5,263.8 1452.5,271.9 1452.5,286.1 1426.5,278.0" fill="#fff" stroke="#c4c4c4" stroke-width="0.9"/><text transform="matrix(1,0.310,0,1,1429.1,274.3)" font-size="6.6" font-family="Liberation Sans, sans-serif" font-style="italic" fill="#555" textLength="20.8" lengthAdjust="spacingAndGlyphs">piano_0</text><polygon points="1493.3,282.2 1519.3,290.3 1519.3,304.5 1493.3,296.4" fill="#fff" stroke="#c4c4c4" stroke-width="0.9"/><text transform="matrix(1,0.310,0,1,1495.9,292.7)" font-size="6.6" font-family="Liberation Sans, sans-serif" font-style="italic" fill="#555" textLength="20.8" lengthAdjust="spacingAndGlyphs">piano_0</text><text x="1158.1" y="391.2" font-size="46" font-family="DejaVu Sans, DejaVu Serif, serif" fill="#000">ℰ</text>
<rect x="1685.8" y="30.0" width="527.4" height="400.0" rx="34" fill="#fff" stroke="#000" stroke-width="4" /><g transform="translate(1730.3,76.2) scale(0.5638)"><circle r="40.2" fill="#e9f5fe"/><path d="M8 -39 A40.2 40.2 0 0 1 22 33 A52 52 0 0 0 8 -39Z" fill="#d9e9fb"/><path d="M-29.5 26 C-28 12 -21 6 -12 4 L12 4 C21 6 28 12 29.5 26 A40.2 40.2 0 0 1 -29.5 26Z" fill="#f48796"/><path d="M24 22 C20 30 10 36 -2 38 A40.2 40.2 0 0 0 29.5 26 L27 16Z" fill="#ef7085"/><path d="M-29.5 26 C-28 12 -21 6 -12 4 M12 4 C21 6 28 12 29.5 26" fill="none" stroke="#000" stroke-width="5.8" stroke-linecap="round"/><ellipse cx="0" cy="-7.6" rx="14.4" ry="16.2" fill="#ffcebf"/><path d="M3 -23.4 C20 -22 20 7 3 8.2 C10 2 10 -17 3 -23.4Z" fill="#ffb1a0"/><ellipse cx="0" cy="-7.6" rx="14.4" ry="16.2" fill="none" stroke="#000" stroke-width="5.8"/><path d="M-18.25 -35.82A40.20 40.20 0 1 1 -31.24 -25.30" fill="none" stroke="#000" stroke-width="5.8" stroke-linecap="round"/></g><g transform="translate(1732.5,160.0) scale(0.5639)"><circle r="41.05" fill="#e9f5fe"/><path d="M14 -38.5 A41 41 0 0 1 30 28 A55 55 0 0 0 14 -38.5Z" fill="#d9e9fb"/><rect x="-14.6" y="-24.6" width="29.2" height="14" rx="4" fill="#a9daf5" stroke="#000" stroke-width="5.5"/><rect x="-30.5" y="-12.5" width="61.6" height="30.9" rx="15.45" fill="#8fd3f6" stroke="#000" stroke-width="5.5"/><path d="M12 -10 A14 14 0 0 1 12 17 L16 17 A13.5 13.5 0 0 0 16 -10Z" fill="#6cc4f2"/><circle cx="-12.8" cy="2.6" r="9.3" fill="#000"/><circle cx="-12.8" cy="2.6" r="3.6" fill="#fff"/><circle cx="13" cy="2.6" r="9.3" fill="#000"/><circle cx="13" cy="2.6" r="3.6" fill="#fff"/><path d="M31.45 26.39A41.05 41.05 0 1 1 38.06 15.38" fill="none" stroke="#000" stroke-width="5.5" stroke-linecap="round"/></g><rect x="1773.0" y="49.8" width="420.4" height="67.2" rx="11" fill="#fff" stroke="#e8712d" stroke-width="2" /><path d="M1783.0 69.6V97.6M1786.6 67.0V100.2M1790.2 64.2V103.0M1793.8 69.9V97.3M1797.5 68.6V98.6M1801.0 68.8V98.4M1804.6 69.6V97.6M1808.2 70.4V96.8M1811.8 70.3V96.9M1815.5 70.1V97.1M1819.0 71.7V95.5M1822.6 72.3V94.9M1826.2 67.1V100.1M1829.8 68.0V99.2M1833.5 68.1V99.1M1837.0 70.3V96.9M1840.6 70.2V97.0M1844.2 68.8V98.4M1847.8 68.7V98.5M1851.5 68.6V98.6M1855.0 69.6V97.6M1858.6 68.3V98.9M1862.2 68.9V98.3M1865.8 70.6V96.6M1869.5 68.8V98.4M1873.0 61.4V105.8M1876.6 65.8V101.4M1880.2 59.7V107.5M1883.8 67.4V99.8M1887.5 68.5V98.7M1891.0 71.2V96.0M1894.6 66.5V100.7M1898.2 71.3V95.9M1901.8 73.5V93.7M1905.5 70.7V96.5M1909.0 74.0V93.2M1912.6 64.1V103.1M1916.2 64.3V102.9M1919.8 65.0V102.2M1923.5 65.8V101.4M1927.0 67.5V99.7M1930.6 68.6V98.6M1934.2 71.8V95.4M1937.8 70.8V96.4M1941.5 71.2V96.0M1945.0 73.1V94.1M1948.6 73.6V93.6M1952.2 60.0V107.2M1955.8 58.3V108.9M1959.5 65.2V102.0M1963.0 66.7V100.5M1966.6 66.3V100.9M1970.2 69.4V97.8M1973.8 69.8V97.4M1977.5 68.6V98.6M1981.0 71.7V95.5M1984.6 72.2V95.0M1988.2 56.1V111.1M1991.8 60.4V106.8M1995.5 63.6V103.6M1999.0 67.7V99.5M2002.6 65.4V101.8M2006.2 68.7V98.5M2009.8 69.4V97.8M2013.5 70.8V96.4M2017.0 72.7V94.5M2020.6 74.4V92.8M2024.2 57.0V110.2M2027.8 63.2V104.0M2031.5 64.3V102.9M2035.0 67.4V99.8M2038.6 67.1V100.1M2042.2 69.3V97.9M2045.8 70.3V96.9M2049.4 70.9V96.3M2053.1 57.1V110.1M2056.7 60.4V106.8M2060.2 63.9V103.3M2063.8 65.6V101.6M2067.4 67.9V99.3M2071.1 67.9V99.3M2074.7 68.9V98.3M2078.2 68.6V98.6M2081.8 69.0V98.2M2085.4 70.0V97.2M2089.1 56.8V110.4M2092.7 57.9V109.3M2096.2 62.6V104.6M2099.8 60.6V106.6M2103.4 63.8V103.4M2107.1 66.9V100.3M2110.7 66.2V101.0M2114.2 67.2V100.0M2117.8 65.9V101.3M2121.4 68.7V98.5M2125.1 66.6V100.6M2128.7 69.7V97.5M2132.2 68.8V98.4M2135.8 67.4V99.8M2139.4 66.1V101.1M2143.1 67.1V100.1M2146.7 70.6V96.6M2150.2 64.2V103.0M2153.8 70.2V97.0M2157.4 71.4V95.8M2161.1 70.6V96.6M2164.7 72.3V94.9M2168.2 72.7V94.5M2171.8 72.3V94.9M2175.4 72.1V95.1M2179.1 71.5V95.7" stroke="#a6aebd" stroke-width="1.5" stroke-opacity="1" fill="none" stroke-linecap="round"/><rect x="1773.0" y="134.0" width="420.4" height="273.6" rx="14" fill="#fff" stroke="#4ea72e" stroke-width="2" /><rect x="1800.7" y="155.6" width="118.0" height="47.5" rx="5" fill="#fff" stroke="#1a6a9a" stroke-width="1.3" /><rect x="1923.3" y="155.6" width="118.0" height="47.5" rx="5" fill="#fff" stroke="#1a6a9a" stroke-width="1.3" /><rect x="2046.3" y="155.6" width="124.3" height="47.5" rx="5" fill="#fff" stroke="#1a6a9a" stroke-width="1.3" /><path d="M1818.88 193.19 V188.65 Q1818.88 186.71 1816.20 186.15 A11.20 11.20 0 1 1 1830.30 186.15 Q1827.62 186.71 1827.62 188.65 V193.19" fill="none" stroke="#000" stroke-width="1.2" stroke-linecap="round" stroke-linejoin="round"/><path d="M1818.88 189.94H1827.62 M1818.88 193.19 H1827.62 M1818.88 193.19 Q1818.88 196.94 1821.72 196.94 H1824.78 Q1827.62 196.94 1827.62 193.19" fill="none" stroke="#000" stroke-width="1.2" stroke-linecap="round"/><path d="M1823.25 162.55L1823.25 159.87M1833.78 166.92L1835.68 165.02M1812.72 166.92L1810.82 165.02M1838.15 177.45L1840.83 177.45M1808.35 177.45L1805.67 177.45M1833.78 187.98L1835.68 189.88M1812.72 187.98L1810.82 189.88" stroke="#000" stroke-width="1.2" stroke-linecap="round" fill="none"/><g transform="translate(1823.25,177.45) scale(0.4609)"><path d="M-6.3 -5.2A6.6 6.6 0 1 1 4.5 -0.1Q0.3 1.8 0.3 5V7.3" fill="none" stroke="#000" stroke-width="2.60" stroke-linecap="round"/><circle cx="0.2" cy="12.7" r="1.61" fill="#000"/></g><text x="1846.9" y="183.2" font-size="13.3" font-family="Liberation Sans, sans-serif" textLength="60.0" lengthAdjust="spacingAndGlyphs" fill="#000" >Reasoning</text><rect x="1935.35" y="165.15" width="31.70" height="26.40" rx="3" fill="none" stroke="#000" stroke-width="1.9"/><path d="M1938.81 182.68H1942.70M1946.81 182.68H1963.72M1938.81 186.82H1951.58M1956.02 186.82H1963.72" stroke="#000" stroke-width="1.99" fill="none" stroke-linecap="round"/><text x="2004.1" y="175.5" font-size="13.3" font-family="Liberation Sans, sans-serif" text-anchor="middle" textLength="33.0" lengthAdjust="spacingAndGlyphs" fill="#000" >Video</text><text x="2004.6" y="191.8" font-size="13.3" font-family="Liberation Sans, sans-serif" text-anchor="middle" textLength="44.0" lengthAdjust="spacingAndGlyphs" fill="#000" >caption</text><rect x="2067.25" y="162.65" width="29.10" height="23.80" rx="5.5" fill="#fff" stroke="#000" stroke-width="1.9"/><rect x="2062.05" y="166.25" width="29.10" height="23.80" rx="5.5" fill="#fff" stroke="#000" stroke-width="1.9"/><rect x="2056.85" y="169.85" width="29.10" height="23.80" rx="5.5" fill="#fff" stroke="#000" stroke-width="1.9"/><path d="M2061.33 181.68H2072.94M2079.00 181.68H2081.82M2061.33 187.65H2064.07M2070.15 187.65H2081.82" stroke="#000" stroke-width="1.90" fill="none" stroke-linecap="round"/><text x="2129.3" y="175.5" font-size="13.3" font-family="Liberation Sans, sans-serif" text-anchor="middle" textLength="36.0" lengthAdjust="spacingAndGlyphs" fill="#000" >Frame</text><text x="2130.3" y="191.8" font-size="13.3" font-family="Liberation Sans, sans-serif" text-anchor="middle" textLength="50.5" lengthAdjust="spacingAndGlyphs" fill="#000" >captions</text><polygon points="2016.6,230.4 2162.6,275.6 2162.6,386.1 2016.6,340.9" fill="none" stroke="#2e2e2e" stroke-width="1.15"/><polygon points="1964.4,230.4 2110.4,275.6 2110.4,386.1 1964.4,340.9" fill="none" stroke="#2e2e2e" stroke-width="1.15"/><polygon points="1912.4,230.4 2058.4,275.6 2058.4,386.1 1912.4,340.9" fill="none" stroke="#2e2e2e" stroke-width="1.15"/><polygon points="1860.2,230.4 2006.2,275.6 2006.2,386.1 1860.2,340.9" fill="none" stroke="#2e2e2e" stroke-width="1.15"/><polygon points="1808.4,230.4 1954.4,275.6 1954.4,386.1 1808.4,340.9" fill="none" stroke="#2e2e2e" stroke-width="1.15"/><polygon points="1814.8,259.2 1856.6,272.2 1856.6,332.5 1814.8,319.5" fill="none" stroke="#d9a184" stroke-width="1.3"/><polygon points="1897.0,284.1 1936.8,296.4 1936.8,334.7 1897.0,322.4" fill="none" stroke="#c6f7a4" stroke-width="1.3"/><polygon points="1866.5,259.2 1908.4,272.2 1908.4,332.5 1866.5,319.5" fill="none" stroke="#d9a184" stroke-width="1.3"/><polygon points="1948.8,284.1 1988.6,296.4 1988.6,334.7 1948.8,322.4" fill="none" stroke="#c6f7a4" stroke-width="1.3"/><polygon points="1918.8,259.2 1960.6,272.2 1960.6,332.5 1918.8,319.5" fill="none" stroke="#d9a184" stroke-width="1.3"/><polygon points="2001.0,284.1 2040.8,296.4 2040.8,334.7 2001.0,322.4" fill="none" stroke="#c6f7a4" stroke-width="1.3"/><polygon points="1970.8,259.2 2012.6,272.2 2012.6,332.5 1970.8,319.5" fill="none" stroke="#d9a184" stroke-width="1.3"/><polygon points="2053.0,284.1 2092.8,296.4 2092.8,334.7 2053.0,322.4" fill="none" stroke="#c6f7a4" stroke-width="1.3"/><polygon points="2022.9,259.2 2064.8,272.2 2064.8,332.5 2022.9,319.5" fill="none" stroke="#d9a184" stroke-width="1.3"/><polygon points="2105.2,284.1 2145.0,296.4 2145.0,334.7 2105.2,322.4" fill="none" stroke="#c6f7a4" stroke-width="1.3"/><polygon points="1812.1,248.1 1837.7,256.0 1837.7,270.4 1812.1,262.5" fill="#fff" stroke="#c4c4c4" stroke-width="0.9"/><text transform="matrix(1,0.310,0,1,1814.7,258.7)" font-size="6.6" font-family="Liberation Sans, sans-serif" font-style="italic" fill="#555" textLength="20.5" lengthAdjust="spacingAndGlyphs">piano_0</text><polygon points="1895.0,274.9 1921.8,283.2 1921.8,297.1 1895.0,288.8" fill="#fff" stroke="#c4c4c4" stroke-width="0.9"/><text transform="matrix(1,0.310,0,1,1897.7,285.2)" font-size="6.6" font-family="Liberation Sans, sans-serif" font-style="italic" fill="#555" textLength="21.4" lengthAdjust="spacingAndGlyphs">guitar_1</text><polygon points="1863.9,248.1 1889.5,256.0 1889.5,270.4 1863.9,262.5" fill="#fff" stroke="#c4c4c4" stroke-width="0.9"/><text transform="matrix(1,0.310,0,1,1866.5,258.7)" font-size="6.6" font-family="Liberation Sans, sans-serif" font-style="italic" fill="#555" textLength="20.5" lengthAdjust="spacingAndGlyphs">piano_0</text><polygon points="1946.8,274.9 1973.6,283.2 1973.6,297.1 1946.8,288.8" fill="#fff" stroke="#c4c4c4" stroke-width="0.9"/><text transform="matrix(1,0.310,0,1,1949.5,285.2)" font-size="6.6" font-family="Liberation Sans, sans-serif" font-style="italic" fill="#555" textLength="21.4" lengthAdjust="spacingAndGlyphs">guitar_1</text><polygon points="1916.1,248.1 1941.7,256.0 1941.7,270.4 1916.1,262.5" fill="#fff" stroke="#c4c4c4" stroke-width="0.9"/><text transform="matrix(1,0.310,0,1,1918.7,258.7)" font-size="6.6" font-family="Liberation Sans, sans-serif" font-style="italic" fill="#555" textLength="20.5" lengthAdjust="spacingAndGlyphs">piano_0</text><polygon points="1999.0,274.9 2025.8,283.2 2025.8,297.1 1999.0,288.8" fill="#fff" stroke="#c4c4c4" stroke-width="0.9"/><text transform="matrix(1,0.310,0,1,2001.7,285.2)" font-size="6.6" font-family="Liberation Sans, sans-serif" font-style="italic" fill="#555" textLength="21.4" lengthAdjust="spacingAndGlyphs">guitar_1</text><polygon points="1968.1,248.1 1993.7,256.0 1993.7,270.4 1968.1,262.5" fill="#fff" stroke="#c4c4c4" stroke-width="0.9"/><text transform="matrix(1,0.310,0,1,1970.7,258.7)" font-size="6.6" font-family="Liberation Sans, sans-serif" font-style="italic" fill="#555" textLength="20.5" lengthAdjust="spacingAndGlyphs">piano_0</text><polygon points="2051.0,274.9 2077.8,283.2 2077.8,297.1 2051.0,288.8" fill="#fff" stroke="#c4c4c4" stroke-width="0.9"/><text transform="matrix(1,0.310,0,1,2053.7,285.2)" font-size="6.6" font-family="Liberation Sans, sans-serif" font-style="italic" fill="#555" textLength="21.4" lengthAdjust="spacingAndGlyphs">guitar_1</text><polygon points="2020.3,248.1 2045.9,256.0 2045.9,270.4 2020.3,262.5" fill="#fff" stroke="#c4c4c4" stroke-width="0.9"/><text transform="matrix(1,0.310,0,1,2022.9,258.7)" font-size="6.6" font-family="Liberation Sans, sans-serif" font-style="italic" fill="#555" textLength="20.5" lengthAdjust="spacingAndGlyphs">piano_0</text><polygon points="2103.2,274.9 2130.0,283.2 2130.0,297.1 2103.2,288.8" fill="#fff" stroke="#c4c4c4" stroke-width="0.9"/><text transform="matrix(1,0.310,0,1,2105.9,285.2)" font-size="6.6" font-family="Liberation Sans, sans-serif" font-style="italic" fill="#555" textLength="21.4" lengthAdjust="spacingAndGlyphs">guitar_1</text><text x="1707.6" y="391.2" font-size="46" font-family="DejaVu Sans, DejaVu Serif, serif" fill="#000">ℰ</text>
<text x="637.3" y="402.5" font-size="43" font-family="Liberation Serif, serif" font-style="italic" fill="#000"  stroke="#000" stroke-width="0.60" stroke-linejoin="round">i</text>
<text x="1187.3" y="400.6" font-size="40" font-family="Liberation Serif, serif" font-style="italic" fill="#000"  stroke="#000" stroke-width="0.60" stroke-linejoin="round">j</text>
<text x="1738.3" y="401.6" font-size="42" font-family="Liberation Serif, serif" font-style="italic" fill="#000"  stroke="#000" stroke-width="0.60" stroke-linejoin="round">k</text>
<polygon points="843.5,444.0 843.5,476.5 825.4,476.5 861.7,508.0 898.0,476.5 880.0,476.5 880.0,444.0" fill="#fff" stroke="#000" stroke-width="2"/>
<polygon points="1365.5,444.0 1365.5,476.5 1347.5,476.5 1383.8,508.0 1420.0,476.5 1402.0,476.5 1402.0,444.0" fill="#fff" stroke="#000" stroke-width="2"/>
<polygon points="1915.0,444.0 1915.0,476.5 1897.0,476.5 1933.3,508.0 1969.6,476.5 1951.5,476.5 1951.5,444.0" fill="#fff" stroke="#000" stroke-width="2"/>
<g transform="translate(94.2,575.8) scale(1.0000)"><circle r="40.2" fill="#e9f5fe"/><path d="M8 -39 A40.2 40.2 0 0 1 22 33 A52 52 0 0 0 8 -39Z" fill="#d9e9fb"/><path d="M-29.5 26 C-28 12 -21 6 -12 4 L12 4 C21 6 28 12 29.5 26 A40.2 40.2 0 0 1 -29.5 26Z" fill="#f48796"/><path d="M24 22 C20 30 10 36 -2 38 A40.2 40.2 0 0 0 29.5 26 L27 16Z" fill="#ef7085"/><path d="M-29.5 26 C-28 12 -21 6 -12 4 M12 4 C21 6 28 12 29.5 26" fill="none" stroke="#000" stroke-width="5.8" stroke-linecap="round"/><ellipse cx="0" cy="-7.6" rx="14.4" ry="16.2" fill="#ffcebf"/><path d="M3 -23.4 C20 -22 20 7 3 8.2 C10 2 10 -17 3 -23.4Z" fill="#ffb1a0"/><ellipse cx="0" cy="-7.6" rx="14.4" ry="16.2" fill="none" stroke="#000" stroke-width="5.8"/><path d="M-18.25 -35.82A40.20 40.20 0 1 1 -31.24 -25.30" fill="none" stroke="#000" stroke-width="5.8" stroke-linecap="round"/></g>
<rect x="156.5" y="519.8" width="470.5" height="107.4" rx="18" fill="#fff" stroke="#e8712d" stroke-width="2.2" />
<text x="176" y="591.8" font-size="52" font-family="Liberation Serif, serif" font-style="italic" fill="#000" stroke="#000" stroke-width="0.6" stroke-linejoin="round">A</text>
<path d="M237.0 550.4V602.4M240.4 555.5V597.3M243.8 557.4V595.4M247.2 558.9V593.9M250.6 551.8V601.0M253.9 558.0V594.8M257.3 560.1V592.7M260.7 560.0V592.8M264.1 560.4V592.4M267.5 562.3V590.5M270.9 562.7V590.1M274.3 555.2V597.6M277.7 560.6V592.2M281.1 550.0V602.8M284.5 559.4V593.4M287.9 556.3V596.5M291.2 557.8V595.0M294.6 557.6V595.2M298.0 560.3V592.5M301.4 559.1V593.7M304.8 559.5V593.3M308.2 554.2V598.6M311.6 559.2V593.6M315.0 561.5V591.3M318.4 559.6V593.2M321.8 543.7V609.1M325.1 551.2V601.6M328.5 554.2V598.6M331.9 555.8V597.0M335.3 552.8V600.0M338.7 558.1V594.7M342.1 556.4V596.4M345.5 552.5V600.3M348.9 552.3V600.5M352.3 556.1V596.7M355.6 548.4V604.4M359.0 557.3V595.5M362.4 550.6V602.2M365.8 548.4V604.4M369.2 551.5V601.3M372.6 555.0V597.8M376.0 554.4V598.4M379.4 557.2V595.6M382.8 556.3V596.5M386.2 558.6V594.2M389.6 558.0V594.8M392.9 560.1V592.7M396.3 547.8V605.0M399.7 551.6V601.2M403.1 557.7V595.1M406.5 560.9V591.9M409.9 544.1V608.7M413.3 545.9V606.9M416.7 550.5V602.3M420.1 553.6V599.2M423.5 554.9V597.9M426.8 556.3V596.5M430.2 544.9V607.9M433.6 551.0V601.8M437.0 554.7V598.1M440.4 554.3V598.5M443.8 561.5V591.3M447.2 562.4V590.4M450.6 545.0V607.8M454.0 548.3V604.5M457.4 551.7V601.1M460.7 552.9V599.9M464.1 554.7V598.1M467.5 556.8V596.0M470.9 557.0V595.8M474.3 559.7V593.1M477.7 559.4V593.4M481.1 561.4V591.4M484.5 561.1V591.7M487.9 563.4V589.4M491.2 562.5V590.3M494.6 542.1V610.7M498.0 552.7V600.1M501.4 554.2V598.6M504.8 564.1V588.7M508.2 540.4V612.4M511.6 547.4V605.4M515.0 555.8V597.0M518.4 558.0V594.8M521.8 560.5V592.3M525.2 561.8V591.0M528.5 563.3V589.5M531.9 553.0V599.8M535.3 553.6V599.2M538.7 546.3V606.5M542.1 556.4V596.4M545.5 556.8V596.0M548.9 555.2V597.6M552.3 546.5V606.3M555.7 548.9V603.9M559.0 549.7V603.1M562.4 548.1V604.7M565.8 552.9V599.9M569.2 553.2V599.6M572.6 556.8V596.0M576.0 555.7V597.1M579.4 554.7V598.1M582.8 558.0V594.8M586.2 560.0V592.8M589.6 558.1V594.7M593.0 544.7V608.1M596.3 545.7V607.1M599.7 552.7V600.1M603.1 555.9V596.9" stroke="#a6aebd" stroke-width="1.65" stroke-opacity="1" fill="none" stroke-linecap="round"/>
<polygon points="643.0,560.0 675.0,560.0 675.0,542.3 707.0,578.3 675.0,614.3 675.0,596.6 643.0,596.6" fill="#fff" stroke="#000" stroke-width="2" stroke-linejoin="miter"/>
<rect x="722.0" y="520.0" width="1268.7" height="108.0" rx="19" fill="#0c78a2" stroke="#06222e" stroke-width="2.3" />
<g transform="translate(1204.4,575.0) scale(0.9977)"><circle r="41.05" fill="#e9f5fe"/><path d="M14 -38.5 A41 41 0 0 1 30 28 A55 55 0 0 0 14 -38.5Z" fill="#d9e9fb"/><rect x="-14.6" y="-24.6" width="29.2" height="14" rx="4" fill="#a9daf5" stroke="#000" stroke-width="5.5"/><rect x="-30.5" y="-12.5" width="61.6" height="30.9" rx="15.45" fill="#8fd3f6" stroke="#000" stroke-width="5.5"/><path d="M12 -10 A14 14 0 0 1 12 17 L16 17 A13.5 13.5 0 0 0 16 -10Z" fill="#6cc4f2"/><circle cx="-12.8" cy="2.6" r="9.3" fill="#000"/><circle cx="-12.8" cy="2.6" r="3.6" fill="#fff"/><circle cx="13" cy="2.6" r="9.3" fill="#000"/><circle cx="13" cy="2.6" r="3.6" fill="#fff"/><path d="M31.45 26.39A41.05 41.05 0 1 1 38.06 15.38" fill="none" stroke="#000" stroke-width="5.5" stroke-linecap="round"/></g>
<text x="1268.0" y="591.3" font-size="50" font-family="Liberation Sans, sans-serif" textLength="318.2" lengthAdjust="spacingAndGlyphs" fill="#fff"  stroke="#fff" stroke-width="0.60" stroke-linejoin="round">Video Planner</text>
<polygon points="2071.0,559.7 2039.5,559.7 2039.5,541.5 2007.5,578.0 2039.5,614.5 2039.5,596.3 2071.0,596.3" fill="#fff" stroke="#000" stroke-width="2"/>
<rect x="2087.3" y="520.0" width="225.7" height="106.5" rx="16" fill="#fff" stroke="#1f95cf" stroke-width="1.8" />
<path d="M2121.00 555.92L2122.34 550.08L2128.06 550.08L2129.40 555.92L2133.22 557.31L2138.00 553.69L2142.39 557.37L2139.65 562.71L2141.69 566.23L2147.67 566.53L2148.67 572.17L2143.14 574.50L2142.44 578.51L2146.83 582.58L2143.97 587.54L2138.24 585.77L2135.12 588.39L2135.87 594.34L2130.49 596.30L2127.24 591.26L2123.16 591.26L2119.91 596.30L2114.53 594.34L2115.28 588.39L2112.16 585.77L2106.43 587.54L2103.57 582.58L2107.96 578.51L2107.26 574.50L2101.73 572.17L2102.73 566.53L2108.71 566.23L2110.75 562.71L2108.01 557.37L2112.40 553.69L2117.18 557.31Z" fill="none" stroke="#000" stroke-width="2.2" stroke-linejoin="round"/><circle cx="2125.20" cy="573.40" r="9.09" fill="none" stroke="#000" stroke-width="2.2"/>
<text x="2226.3" y="566.3" font-size="26" font-family="Liberation Sans, sans-serif" text-anchor="middle" textLength="82.5" lengthAdjust="spacingAndGlyphs" fill="#000"  stroke="#000" stroke-width="0.31" stroke-linejoin="round">System</text>
<text x="2225.0" y="599.0" font-size="26" font-family="Liberation Sans, sans-serif" text-anchor="middle" textLength="123.0" lengthAdjust="spacingAndGlyphs" fill="#000"  stroke="#000" stroke-width="0.31" stroke-linejoin="round">Instruction</text>
<rect x="11.1" y="691.9" width="2328.4" height="739.0" rx="30" fill="#f1fbf2" stroke="#bababa" stroke-width="3.6" stroke-dasharray="31.5 12.7" stroke-dashoffset="14"/>
<polygon points="1365.5,641.5 1365.5,673.5 1347.5,673.5 1383.8,704.4 1420.0,673.5 1402.0,673.5 1402.0,641.5" fill="#fff" stroke="#000" stroke-width="2"/>
<rect x="46.8" y="716.9" width="875.1" height="280.9" rx="16" fill="none" stroke="#a02b93" stroke-width="3.7" />
<polygon points="68.7,751.2 74.9,749.1 106.4,801.5 100.1,803.6" fill="#1d9fdc"/><polygon points="68.7,751.2 100.1,803.6 100.1,863.7 68.7,811.3" fill="url(#gb)"/><polygon points="100.1,803.6 106.4,801.5 106.4,861.6 100.1,863.7" fill="#2ba7e1"/><polyline points="68.7,751.2 100.1,803.6 100.1,863.7" fill="none" stroke="#0878ad" stroke-width="1" stroke-opacity="0.75"/>
<polygon points="316.0,751.2 322.3,749.1 353.8,801.5 347.5,803.6" fill="#ee7838"/><polygon points="316.0,751.2 347.5,803.6 347.5,863.7 316.0,811.3" fill="url(#go)"/><polygon points="347.5,803.6 353.8,801.5 353.8,861.6 347.5,863.7" fill="#f08049"/><polyline points="316.0,751.2 347.5,803.6 347.5,863.7" fill="none" stroke="#c4531a" stroke-width="1" stroke-opacity="0.75"/>
<polygon points="580.9,751.2 587.2,749.1 618.6,801.5 612.3,803.6" fill="#55ad37"/><polygon points="580.9,751.2 612.3,803.6 612.3,863.7 580.9,811.3" fill="url(#gg)"/><polygon points="612.3,803.6 618.6,801.5 618.6,861.6 612.3,863.7" fill="#60b244"/><polyline points="580.9,751.2 612.3,803.6 612.3,863.7" fill="none" stroke="#35801c" stroke-width="1" stroke-opacity="0.75"/>
<text x="200.7" y="786.2" font-size="31" font-family="Liberation Sans, sans-serif" text-anchor="middle" textLength="70.0" lengthAdjust="spacingAndGlyphs" fill="#000"  stroke="#000" stroke-width="0.37" stroke-linejoin="round">Base</text>
<text x="204.0" y="825.5" font-size="31" font-family="Liberation Sans, sans-serif" text-anchor="middle" textLength="121.5" lengthAdjust="spacingAndGlyphs" fill="#000"  stroke="#000" stroke-width="0.37" stroke-linejoin="round">Modules</text>
<text x="446.4" y="786.2" font-size="31" font-family="Liberation Sans, sans-serif" text-anchor="middle" textLength="98.0" lengthAdjust="spacingAndGlyphs" fill="#000"  stroke="#000" stroke-width="0.37" stroke-linejoin="round">Motion</text>
<text x="449.5" y="825.5" font-size="31" font-family="Liberation Sans, sans-serif" text-anchor="middle" textLength="121.5" lengthAdjust="spacingAndGlyphs" fill="#000"  stroke="#000" stroke-width="0.37" stroke-linejoin="round">Modules</text>
<text x="765.8" y="786.2" font-size="31" font-family="Liberation Sans, sans-serif" text-anchor="middle" textLength="258.0" lengthAdjust="spacingAndGlyphs" fill="#000"  stroke="#000" stroke-width="0.37" stroke-linejoin="round">Spatial Grounding</text>
<text x="765.6" y="825.5" font-size="31" font-family="Liberation Sans, sans-serif" text-anchor="middle" textLength="121.5" lengthAdjust="spacingAndGlyphs" fill="#000"  stroke="#000" stroke-width="0.37" stroke-linejoin="round">Modules</text>
<path d="M61.7 939.6L85 928.2V935.7H121V943.5H85V951Z" fill="#000"/>
<text x="135.0" y="945.8" font-size="31" font-family="Liberation Sans, sans-serif" textLength="142.5" lengthAdjust="spacingAndGlyphs" fill="#000"  stroke="#000" stroke-width="0.37" stroke-linejoin="round">Denoising</text>
<path d="M310 935.6H333.5V943.6H310ZM342 935.6H347V928H347L369.2 939.6L347 951.2V943.6H342Z" fill="#7f7f7f"/>
<text x="387.7" y="945.8" font-size="31" font-family="Liberation Sans, sans-serif" textLength="127.5" lengthAdjust="spacingAndGlyphs" fill="#000"  stroke="#000" stroke-width="0.37" stroke-linejoin="round">Diffusion</text>
<polygon points="545.9,909.9 598.4,918.6 645.5,909.9 661.9,938.9 661.9,968.6 613.0,959.8 562.4,968.6 545.9,938.9" fill="#bbe4f0"/>
<polygon points="545.9,909.9 598.4,918.6 645.5,909.9 661.9,938.9 645.5,941.3 562.4,936.4" fill="#84cde6"/>
<polygon points="645.5,909.9 661.9,938.9 661.9,968.6 645.5,941.3" fill="#84cde6"/>
<polyline points="545.9,909.9 562.4,936.4 562.4,968.6" fill="none" stroke="#3aa9dd" stroke-width="0.9"/>
<polyline points="562.4,936.4 645.5,941.3 645.5,909.9" fill="none" stroke="#3aa9dd" stroke-width="0.9"/>
<polyline points="645.5,941.3 661.9,968.6" fill="none" stroke="#3aa9dd" stroke-width="0.9"/>
<text x="676.6" y="922.0" font-size="31" font-family="Liberation Sans, sans-serif" textLength="200.5" lengthAdjust="spacingAndGlyphs" fill="#000"  stroke="#000" stroke-width="0.37" stroke-linejoin="round">VSL-grounded</text>
<text x="676.6" y="961.2" font-size="31" font-family="Liberation Sans, sans-serif" textLength="232.0" lengthAdjust="spacingAndGlyphs" fill="#000"  stroke="#000" stroke-width="0.37" stroke-linejoin="round">Video Generator</text>
<rect x="978.4" y="717.1" width="845.8" height="279.9" rx="17" fill="#fff" stroke="#4ea72e" stroke-width="4.2" />
<polygon points="1289.7,756.4 1477.7,813.8 1477.7,962.6 1289.7,905.2" fill="none" stroke="#2e2e2e" stroke-width="1.6"/><polygon points="1221.4,756.4 1409.4,813.8 1409.4,962.6 1221.4,905.2" fill="none" stroke="#2e2e2e" stroke-width="1.6"/><polygon points="1153.0,756.4 1341.0,813.8 1341.0,962.6 1153.0,905.2" fill="none" stroke="#2e2e2e" stroke-width="1.6"/><polygon points="1083.7,756.4 1271.7,813.8 1271.7,962.6 1083.7,905.2" fill="none" stroke="#2e2e2e" stroke-width="1.6"/><polygon points="1014.7,756.4 1202.7,813.8 1202.7,962.6 1014.7,905.2" fill="none" stroke="#2e2e2e" stroke-width="1.6"/>
<polygon points="1019.8,816.5 1072.1,832.5 1072.1,904.9 1019.8,888.9" fill="none" stroke="#d69873" stroke-width="1.5"/>
<polygon points="1088.8,816.5 1140.4,832.3 1140.4,904.7 1088.8,888.9" fill="none" stroke="#d69873" stroke-width="1.5"/>
<polygon points="1153.7,815.5 1204.3,830.9 1204.3,902.7 1153.7,887.2" fill="none" stroke="#d69873" stroke-width="1.5"/>
<polygon points="1221.4,815.5 1271.9,830.9 1271.9,902.7 1221.4,887.2" fill="none" stroke="#d69873" stroke-width="1.5"/>
<polygon points="1290.4,815.5 1340.9,830.9 1340.9,902.7 1290.4,887.2" fill="none" stroke="#d69873" stroke-width="1.5"/>
<polygon points="1178.7,881.1 1202.6,888.4 1202.6,945.4 1178.7,938.1" fill="none" stroke="#b4f08c" stroke-width="1.5"/>
<polygon points="1247.0,881.1 1270.9,888.4 1270.9,945.4 1247.0,938.1" fill="none" stroke="#b4f08c" stroke-width="1.5"/>
<polygon points="1311.2,881.1 1335.1,888.4 1335.1,943.0 1311.2,935.7" fill="none" stroke="#b4f08c" stroke-width="1.5"/>
<polygon points="1379.5,881.1 1403.5,888.4 1403.5,943.0 1379.5,935.7" fill="none" stroke="#b4f08c" stroke-width="1.5"/>
<polygon points="1447.9,881.1 1471.8,888.4 1471.8,943.0 1447.9,935.7" fill="none" stroke="#b4f08c" stroke-width="1.5"/>
<polygon points="1016.4,804.2 1050.5,814.6 1050.5,834.1 1016.4,823.7" fill="#fff" stroke="#c4c4c4" stroke-width="0.9"/><text transform="matrix(1,0.305,0,1,1019.8,818.5)" font-size="8.6" font-family="Liberation Sans, sans-serif" font-style="italic" fill="#555" textLength="27.3" lengthAdjust="spacingAndGlyphs">piano_0</text>
<polygon points="1085.4,804.2 1119.5,814.6 1119.5,834.1 1085.4,823.7" fill="#fff" stroke="#c4c4c4" stroke-width="0.9"/><text transform="matrix(1,0.305,0,1,1088.8,818.5)" font-size="8.6" font-family="Liberation Sans, sans-serif" font-style="italic" fill="#555" textLength="27.3" lengthAdjust="spacingAndGlyphs">piano_0</text>
<polygon points="1150.3,801.8 1184.5,812.2 1184.5,831.7 1150.3,821.3" fill="#fff" stroke="#c4c4c4" stroke-width="0.9"/><text transform="matrix(1,0.305,0,1,1153.7,816.1)" font-size="8.6" font-family="Liberation Sans, sans-serif" font-style="italic" fill="#555" textLength="27.3" lengthAdjust="spacingAndGlyphs">piano_0</text>
<polygon points="1218.6,801.8 1252.8,812.2 1252.8,831.7 1218.6,821.3" fill="#fff" stroke="#c4c4c4" stroke-width="0.9"/><text transform="matrix(1,0.305,0,1,1222.0,816.1)" font-size="8.6" font-family="Liberation Sans, sans-serif" font-style="italic" fill="#555" textLength="27.3" lengthAdjust="spacingAndGlyphs">piano_0</text>
<polygon points="1287.0,801.8 1321.1,812.2 1321.1,831.7 1287.0,821.3" fill="#fff" stroke="#c4c4c4" stroke-width="0.9"/><text transform="matrix(1,0.305,0,1,1290.4,816.1)" font-size="8.6" font-family="Liberation Sans, sans-serif" font-style="italic" fill="#555" textLength="27.3" lengthAdjust="spacingAndGlyphs">piano_0</text>
<polygon points="1175.9,863.3 1214.9,875.2 1214.9,895.0 1175.9,883.1" fill="#fff" stroke="#c4c4c4" stroke-width="0.9"/><text transform="matrix(1,0.305,0,1,1179.8,878.0)" font-size="8.6" font-family="Liberation Sans, sans-serif" font-style="italic" fill="#555" textLength="31.2" lengthAdjust="spacingAndGlyphs">woman_1</text>
<polygon points="1244.3,863.3 1283.2,875.2 1283.2,895.0 1244.3,883.1" fill="#fff" stroke="#c4c4c4" stroke-width="0.9"/><text transform="matrix(1,0.305,0,1,1248.1,878.0)" font-size="8.6" font-family="Liberation Sans, sans-serif" font-style="italic" fill="#555" textLength="31.2" lengthAdjust="spacingAndGlyphs">woman_1</text>
<polygon points="1307.8,861.9 1346.7,873.8 1346.7,893.6 1307.8,881.8" fill="#fff" stroke="#c4c4c4" stroke-width="0.9"/><text transform="matrix(1,0.305,0,1,1311.7,876.6)" font-size="8.6" font-family="Liberation Sans, sans-serif" font-style="italic" fill="#555" textLength="31.2" lengthAdjust="spacingAndGlyphs">woman_1</text>
<polygon points="1376.1,861.9 1415.1,873.8 1415.1,893.6 1376.1,881.8" fill="#fff" stroke="#c4c4c4" stroke-width="0.9"/><text transform="matrix(1,0.305,0,1,1380.0,876.6)" font-size="8.6" font-family="Liberation Sans, sans-serif" font-style="italic" fill="#555" textLength="31.2" lengthAdjust="spacingAndGlyphs">woman_1</text>
<polygon points="1444.5,861.9 1483.4,873.8 1483.4,893.6 1444.5,881.8" fill="#fff" stroke="#c4c4c4" stroke-width="0.9"/><text transform="matrix(1,0.305,0,1,1448.3,876.6)" font-size="8.6" font-family="Liberation Sans, sans-serif" font-style="italic" fill="#555" textLength="31.2" lengthAdjust="spacingAndGlyphs">woman_1</text>
<text x="995" y="975.8" font-size="46" font-family="DejaVu Sans, DejaVu Serif, serif" fill="#000">ℒ</text>
<rect x="1511.5" y="740.5" width="282.5" height="64.5" rx="8" fill="#fff" stroke="#1e648c" stroke-width="1.3" />
<rect x="1511.5" y="820.5" width="282.5" height="64.8" rx="8" fill="#fff" stroke="#1e648c" stroke-width="1.3" />
<rect x="1511.5" y="901.8" width="282.5" height="64.5" rx="8" fill="#fff" stroke="#1e648c" stroke-width="1.3" />
<path d="M1554.72 791.59 V785.80 Q1554.72 783.33 1551.30 782.61 A14.30 14.30 0 1 1 1569.30 782.61 Q1565.88 783.33 1565.88 785.80 V791.59" fill="none" stroke="#000" stroke-width="1.6" stroke-linecap="round" stroke-linejoin="round"/><path d="M1554.72 787.44H1565.88 M1554.72 791.59 H1565.88 M1554.72 791.59 Q1554.72 796.38 1558.35 796.38 H1562.25 Q1565.88 796.38 1565.88 791.59" fill="none" stroke="#000" stroke-width="1.6" stroke-linecap="round"/><path d="M1560.30 752.48L1560.30 749.05M1573.75 758.05L1576.18 755.62M1546.85 758.05L1544.42 755.62M1579.32 771.50L1582.75 771.50M1541.28 771.50L1537.85 771.50M1573.75 784.95L1576.18 787.38M1546.85 784.95L1544.42 787.38" stroke="#000" stroke-width="1.6" stroke-linecap="round" fill="none"/><g transform="translate(1560.30,771.50) scale(0.5885)"><path d="M-6.3 -5.2A6.6 6.6 0 1 1 4.5 -0.1Q0.3 1.8 0.3 5V7.3" fill="none" stroke="#000" stroke-width="2.72" stroke-linecap="round"/><circle cx="0.2" cy="12.7" r="1.69" fill="#000"/></g>
<text x="1615.3" y="782.0" font-size="26" font-family="Liberation Sans, sans-serif" textLength="119.5" lengthAdjust="spacingAndGlyphs" fill="#000"  stroke="#000" stroke-width="0.31" stroke-linejoin="round">Reasoning</text>
<rect x="1536.50" y="833.50" width="46.20" height="37.50" rx="5" fill="none" stroke="#000" stroke-width="2.2"/><path d="M1541.54 858.40H1547.22M1553.20 858.40H1577.85M1541.54 864.29H1560.15M1566.62 864.29H1577.85" stroke="#000" stroke-width="2.31" fill="none" stroke-linecap="round"/>
<text x="1604.0" y="861.3" font-size="26" font-family="Liberation Sans, sans-serif" textLength="156.5" lengthAdjust="spacingAndGlyphs" fill="#000"  stroke="#000" stroke-width="0.31" stroke-linejoin="round">Video caption</text>
<rect x="1545.00" y="911.80" width="39.60" height="32.80" rx="9.5" fill="#fff" stroke="#000" stroke-width="2.9"/><rect x="1537.40" y="918.00" width="39.60" height="32.80" rx="9.5" fill="#fff" stroke="#000" stroke-width="2.9"/><rect x="1529.80" y="924.20" width="39.60" height="32.80" rx="9.5" fill="#fff" stroke="#000" stroke-width="2.9"/><path d="M1535.90 940.50H1551.70M1559.94 940.50H1563.78M1535.90 948.73H1539.62M1547.90 948.73H1563.78" stroke="#000" stroke-width="2.90" fill="none" stroke-linecap="round"/>
<text x="1604.0" y="942.6" font-size="26" font-family="Liberation Sans, sans-serif" textLength="176.0" lengthAdjust="spacingAndGlyphs" fill="#000"  stroke="#000" stroke-width="0.31" stroke-linejoin="round">Frame captions</text>
<text x="1885.0" y="773.3" font-size="50" font-family="Liberation Sans, sans-serif" textLength="178.5" lengthAdjust="spacingAndGlyphs" fill="#000"  stroke="#000" stroke-width="0.60" stroke-linejoin="round">Stage 2:</text>
<text x="1885.0" y="837.8" font-size="50" font-family="Liberation Sans, sans-serif" textLength="390.0" lengthAdjust="spacingAndGlyphs" fill="#000"  stroke="#000" stroke-width="0.60" stroke-linejoin="round">Layout-grounded</text>
<text x="1885.0" y="902.2" font-size="50" font-family="Liberation Sans, sans-serif" textLength="394.5" lengthAdjust="spacingAndGlyphs" fill="#000"  stroke="#000" stroke-width="0.60" stroke-linejoin="round">Video Generation</text>
<rect x="49.4" y="1029.0" width="456.2" height="380.1" rx="20" fill="none" stroke="#a9a9a9" stroke-width="3.8" />
<text x="220" y="1093.7" font-size="54" font-family="Liberation Serif, serif" font-style="italic" fill="#000" stroke="#000" stroke-width="0.6" stroke-linejoin="round">V</text>
<g transform="translate(320.1,1123.2)"><use href="#scene"/></g><g transform="translate(256.1,1123.2)"><use href="#scene"/></g><g transform="translate(192.1,1123.2)"><use href="#scene"/></g><g transform="translate(128.0,1123.2)"><use href="#scene"/></g><g transform="translate(64.0,1123.2)"><use href="#scene"/></g>
<rect x="530.0" y="1027.8" width="1783.4" height="381.4" rx="25" fill="none" stroke="#000" stroke-width="4.1" />
<path d="M878.6 1332.4 C930 1385 1700 1384 1992 1344.5" fill="none" stroke="#808080" stroke-width="7.8" stroke-dasharray="24 7.9" stroke-dashoffset="-0.5"/>
<polygon points="2014.3,1331.7 1986.4,1332.6 2000.4,1352.8" fill="#808080"/>
<text x="834.0" y="1089.9" font-size="55" font-family="Liberation Serif, serif" font-style="italic" fill="#000"  stroke="#000" stroke-width="0.66" stroke-linejoin="round">Z</text>
<text x="865.5" y="1100.5" font-size="42" font-family="Liberation Serif, serif" font-style="italic" fill="#000"  stroke="#000" stroke-width="0.50" stroke-linejoin="round">t</text>
<text x="883.2" y="1100.5" font-size="40" font-family="Liberation Serif, serif" fill="#000"  stroke="#000" stroke-width="0.80" stroke-linejoin="round">−</text>
<text x="911.0" y="1100.2" font-size="35" font-family="Liberation Serif, serif" fill="#000"  stroke="#000" stroke-width="0.60" stroke-linejoin="round">1</text>
<g transform="translate(918.7,1123.3)"><use href="#scene"/><polygon points="0,0 172.75,54.3 172.75,190.55 0,136.25" fill="#7f8a81" opacity="0.30"/><polygon points="0,0 172.75,54.3 172.75,190.55 0,136.25" fill="#888" filter="url(#nz)"/></g><g transform="translate(854.8,1123.3)"><use href="#scene"/><polygon points="0,0 172.75,54.3 172.75,190.55 0,136.25" fill="#7f8a81" opacity="0.30"/><polygon points="0,0 172.75,54.3 172.75,190.55 0,136.25" fill="#888" filter="url(#nz)"/></g><g transform="translate(790.8,1123.3)"><use href="#scene"/><polygon points="0,0 172.75,54.3 172.75,190.55 0,136.25" fill="#7f8a81" opacity="0.30"/><polygon points="0,0 172.75,54.3 172.75,190.55 0,136.25" fill="#888" filter="url(#nz)"/></g><g transform="translate(726.9,1123.3)"><use href="#scene"/><polygon points="0,0 172.75,54.3 172.75,190.55 0,136.25" fill="#7f8a81" opacity="0.30"/><polygon points="0,0 172.75,54.3 172.75,190.55 0,136.25" fill="#888" filter="url(#nz)"/></g><g transform="translate(662.9,1123.3)"><use href="#scene"/><polygon points="0,0 172.75,54.3 172.75,190.55 0,136.25" fill="#7f8a81" opacity="0.30"/><polygon points="0,0 172.75,54.3 172.75,190.55 0,136.25" fill="#888" filter="url(#nz)"/></g>
<circle cx="550" cy="1211.6" r="5.9" fill="#000"/>
<circle cx="574.2" cy="1211.6" r="5.9" fill="#000"/>
<circle cx="598.3" cy="1211.6" r="5.9" fill="#000"/>
<path d="M617.4 1212L641.4 1199.8V1208.5H657.7V1215.5H641.4V1224.2Z" fill="#000"/>
<polygon points="1115.1,1059.5 1378.7,1104.3 1617.8,1057.5 1701.4,1193.9 1699.7,1351.8 1434.5,1309.3 1193.0,1352.8 1111.8,1217.3" fill="#bbe4f0"/><polygon points="1115.1,1059.5 1378.7,1104.3 1617.8,1057.5 1701.4,1193.9 1434.5,1209.0 1197.1,1194.9" fill="#84cde6"/><polygon points="1617.8,1057.5 1701.4,1193.9 1699.7,1351.8 1617.8,1220.7" fill="#84cde6"/><polyline points="1115.1,1059.5 1197.1,1194.9 1193.0,1352.8" fill="none" stroke="#8fd8f5" stroke-width="1"/><polyline points="1617.8,1057.5 1617.8,1193.9" fill="none" stroke="#6fcaf0" stroke-width="1"/><polyline points="1617.8,1057.5 1701.4,1193.9 1699.7,1351.8" fill="none" stroke="#6fcaf0" stroke-width="1"/><polyline points="1655.3,1287.6 1699.7,1351.8" fill="none" stroke="#6fcaf0" stroke-width="1"/><polygon points="1576.7,1080.2 1589.0,1077.5 1655.9,1191.2 1643.5,1193.9" fill="#1d9fdc"/><polygon points="1576.7,1080.2 1643.5,1193.9 1643.5,1327.7 1576.7,1214.0" fill="url(#gb)"/><polygon points="1643.5,1193.9 1655.9,1191.2 1655.9,1325.0 1643.5,1327.7" fill="#2ba7e1"/><polyline points="1576.7,1080.2 1643.5,1193.9 1643.5,1327.7" fill="none" stroke="#0878ad" stroke-width="1" stroke-opacity="0.75"/><polygon points="1547.6,1080.2 1559.9,1077.5 1626.8,1191.2 1614.4,1193.9" fill="#ee7838"/><polygon points="1547.6,1080.2 1614.4,1193.9 1614.4,1327.7 1547.6,1214.0" fill="url(#go)"/><polygon points="1614.4,1193.9 1626.8,1191.2 1626.8,1325.0 1614.4,1327.7" fill="#f08049"/><polyline points="1547.6,1080.2 1614.4,1193.9 1614.4,1327.7" fill="none" stroke="#c4531a" stroke-width="1" stroke-opacity="0.75"/><polygon points="1500.7,1109.6 1510.1,1107.6 1561.3,1192.9 1551.9,1194.9" fill="#1d9fdc"/><polygon points="1500.7,1109.6 1551.9,1194.9 1551.9,1295.3 1500.7,1210.0" fill="url(#gb)"/><polygon points="1551.9,1194.9 1561.3,1192.9 1561.3,1293.2 1551.9,1295.3" fill="#2ba7e1"/><polyline points="1500.7,1109.6 1551.9,1194.9 1551.9,1295.3" fill="none" stroke="#0878ad" stroke-width="1" stroke-opacity="0.75"/><polygon points="1469.6,1109.6 1479.0,1107.6 1530.2,1192.9 1520.8,1194.9" fill="#55ad37"/><polygon points="1469.6,1109.6 1520.8,1194.9 1520.8,1295.3 1469.6,1210.0" fill="url(#gg)"/><polygon points="1520.8,1194.9 1530.2,1192.9 1530.2,1293.2 1520.8,1295.3" fill="#60b244"/><polyline points="1469.6,1109.6 1520.8,1194.9 1520.8,1295.3" fill="none" stroke="#35801c" stroke-width="1" stroke-opacity="0.75"/><polygon points="1438.5,1109.6 1447.9,1107.6 1499.1,1192.9 1489.7,1194.9" fill="#ee7838"/><polygon points="1438.5,1109.6 1489.7,1194.9 1489.7,1295.3 1438.5,1210.0" fill="url(#go)"/><polygon points="1489.7,1194.9 1499.1,1192.9 1499.1,1293.2 1489.7,1295.3" fill="#f08049"/><polyline points="1438.5,1109.6 1489.7,1194.9 1489.7,1295.3" fill="none" stroke="#c4531a" stroke-width="1" stroke-opacity="0.75"/><polygon points="1385.0,1145.4 1391.7,1143.9 1427.8,1204.1 1421.1,1205.6" fill="#1d9fdc"/><polygon points="1385.0,1145.4 1421.1,1205.6 1421.1,1276.9 1385.0,1216.7" fill="url(#gb)"/><polygon points="1421.1,1205.6 1427.8,1204.1 1427.8,1275.4 1421.1,1276.9" fill="#2ba7e1"/><polyline points="1385.0,1145.4 1421.1,1205.6 1421.1,1276.9" fill="none" stroke="#0878ad" stroke-width="1" stroke-opacity="0.75"/><polygon points="1354.9,1145.4 1361.6,1143.9 1397.7,1204.1 1391.0,1205.6" fill="#55ad37"/><polygon points="1354.9,1145.4 1391.0,1205.6 1391.0,1276.9 1354.9,1216.7" fill="url(#gg)"/><polygon points="1391.0,1205.6 1397.7,1204.1 1397.7,1275.4 1391.0,1276.9" fill="#60b244"/><polyline points="1354.9,1145.4 1391.0,1205.6 1391.0,1276.9" fill="none" stroke="#35801c" stroke-width="1" stroke-opacity="0.75"/><polygon points="1279.0,1109.6 1288.4,1107.6 1338.5,1192.9 1329.2,1194.9" fill="#ee7838"/><polygon points="1279.0,1109.6 1329.2,1194.9 1329.2,1295.3 1279.0,1210.0" fill="url(#go)"/><polygon points="1329.2,1194.9 1338.5,1192.9 1338.5,1293.2 1329.2,1295.3" fill="#f08049"/><polyline points="1279.0,1109.6 1329.2,1194.9 1329.2,1295.3" fill="none" stroke="#c4531a" stroke-width="1" stroke-opacity="0.75"/><polygon points="1248.9,1109.6 1258.3,1107.6 1308.4,1192.9 1299.1,1194.9" fill="#1d9fdc"/><polygon points="1248.9,1109.6 1299.1,1194.9 1299.1,1295.3 1248.9,1210.0" fill="url(#gb)"/><polygon points="1299.1,1194.9 1308.4,1192.9 1308.4,1293.2 1299.1,1295.3" fill="#2ba7e1"/><polyline points="1248.9,1109.6 1299.1,1194.9 1299.1,1295.3" fill="none" stroke="#0878ad" stroke-width="1" stroke-opacity="0.75"/><polygon points="1182.0,1080.2 1193.7,1077.6 1260.6,1191.3 1248.9,1193.9" fill="#ee7838"/><polygon points="1182.0,1080.2 1248.9,1193.9 1248.9,1327.7 1182.0,1214.0" fill="url(#go)"/><polygon points="1248.9,1193.9 1260.6,1191.3 1260.6,1325.1 1248.9,1327.7" fill="#f08049"/><polyline points="1182.0,1080.2 1248.9,1193.9 1248.9,1327.7" fill="none" stroke="#c4531a" stroke-width="1" stroke-opacity="0.75"/><polygon points="1151.9,1080.2 1163.6,1077.6 1230.5,1191.3 1218.8,1193.9" fill="#1d9fdc"/><polygon points="1151.9,1080.2 1218.8,1193.9 1218.8,1327.7 1151.9,1214.0" fill="url(#gb)"/><polygon points="1218.8,1193.9 1230.5,1191.3 1230.5,1325.1 1218.8,1327.7" fill="#2ba7e1"/><polyline points="1151.9,1080.2 1218.8,1193.9 1218.8,1327.7" fill="none" stroke="#0878ad" stroke-width="1" stroke-opacity="0.75"/><polygon points="1115.1,1059.5 1197.1,1194.9 1193.0,1352.8 1111.8,1217.3" fill="#bbe4f0" opacity="0.35"/><polyline points="1151.9,1130.4 1197.1,1194.9 1195.4,1274.2" fill="none" stroke="#9fdcf5" stroke-width="0.9"/>
<rect x="1091.6" y="1209" width="58.2" height="6.8" fill="#000"/>
<polygon points="1364.7,1012.5 1364.7,1043.0 1346.0,1043.0 1383.0,1074.5 1420.0,1043.0 1401.3,1043.0 1401.3,1012.5" fill="#fff" stroke="#000" stroke-width="2"/>
<path d="M1703.8 1213.8L1726.3 1202.3V1210.1H1741.8V1217.5H1726.3V1225.3Z" fill="#000"/>
<text x="1930.2" y="1090.0" font-size="55" font-family="Liberation Serif, serif" font-style="italic" fill="#000"  stroke="#000" stroke-width="0.66" stroke-linejoin="round">Z</text>
<text x="1963.0" y="1100.5" font-size="42" font-family="Liberation Serif, serif" font-style="italic" fill="#000"  stroke="#000" stroke-width="0.50" stroke-linejoin="round">t</text>
<g transform="translate(2007.0,1123.5)"><use href="#scene"/><polygon points="0,0 172.75,54.3 172.75,190.55 0,136.25" fill="#7f8a81" opacity="0.30"/><polygon points="0,0 172.75,54.3 172.75,190.55 0,136.25" fill="#888" filter="url(#nz)"/></g><g transform="translate(1943.2,1123.5)"><use href="#scene"/><polygon points="0,0 172.75,54.3 172.75,190.55 0,136.25" fill="#7f8a81" opacity="0.30"/><polygon points="0,0 172.75,54.3 172.75,190.55 0,136.25" fill="#888" filter="url(#nz)"/></g><g transform="translate(1879.4,1123.5)"><use href="#scene"/><polygon points="0,0 172.75,54.3 172.75,190.55 0,136.25" fill="#7f8a81" opacity="0.30"/><polygon points="0,0 172.75,54.3 172.75,190.55 0,136.25" fill="#888" filter="url(#nz)"/></g><g transform="translate(1815.7,1123.5)"><use href="#scene"/><polygon points="0,0 172.75,54.3 172.75,190.55 0,136.25" fill="#7f8a81" opacity="0.30"/><polygon points="0,0 172.75,54.3 172.75,190.55 0,136.25" fill="#888" filter="url(#nz)"/></g><g transform="translate(1751.9,1123.5)"><use href="#scene"/><polygon points="0,0 172.75,54.3 172.75,190.55 0,136.25" fill="#7f8a81" opacity="0.30"/><polygon points="0,0 172.75,54.3 172.75,190.55 0,136.25" fill="#888" filter="url(#nz)"/></g>
<path d="M2180 1213.2L2202.5 1201.8V1209.3H2226.8V1217H2202.5V1224.8Z" fill="#000"/>
<circle cx="2243.75" cy="1212.5" r="6" fill="#000"/>
<circle cx="2268" cy="1212.5" r="6" fill="#000"/>
<circle cx="2292" cy="1212.5" r="6" fill="#000"/>
<rect x="2371.0" y="7.0" width="883.9" height="1423.8" rx="41" fill="#f2f2f2" stroke="#b9b9b9" stroke-width="4" stroke-dasharray="31.2 12.8" stroke-dashoffset="-2.9"/>
<rect x="2390.1" y="27.9" width="842.9" height="291.5" rx="18" fill="#fff" stroke="#1595d1" stroke-width="2" />
<path d="M2450.78 60.97L2453.01 51.19L2462.59 51.19L2464.82 60.97L2471.21 63.29L2479.20 57.24L2486.54 63.40L2481.97 72.32L2485.37 78.21L2495.38 78.71L2497.05 88.14L2487.81 92.04L2486.63 98.74L2493.98 105.56L2489.19 113.85L2479.61 110.90L2474.39 115.27L2475.64 125.22L2466.64 128.49L2461.20 120.07L2454.40 120.07L2448.96 128.49L2439.96 125.22L2441.21 115.27L2435.99 110.90L2426.41 113.85L2421.62 105.56L2428.97 98.74L2427.79 92.04L2418.55 88.14L2420.22 78.71L2430.23 78.21L2433.63 72.32L2429.06 63.40L2436.40 57.24L2444.39 63.29Z" fill="none" stroke="#000" stroke-width="3.35" stroke-linejoin="round"/><circle cx="2457.80" cy="90.20" r="15.21" fill="none" stroke="#000" stroke-width="3.35"/>
<text x="2811.0" y="93.0" font-size="44.5" font-family="Liberation Sans, sans-serif" text-anchor="middle" textLength="375.5" lengthAdjust="spacingAndGlyphs" fill="#000"  stroke="#000" stroke-width="0.25" stroke-linejoin="round">System Instruction</text>
<text x="2405.6" y="190.5" font-size="37" font-family="Liberation Sans, sans-serif" textLength="780.8" lengthAdjust="spacingAndGlyphs" fill="#000" stroke-width="0.55" stroke-linejoin="round"><tspan stroke="#000">“You are an intelligent </tspan><tspan font-weight="bold" font-style="italic" stroke="none">video director</tspan><tspan stroke="#000"> capable</tspan></text>
<text x="2405.6" y="238.4" font-size="37" font-family="Liberation Sans, sans-serif" textLength="776.0" lengthAdjust="spacingAndGlyphs" fill="#000" stroke-width="0.55" stroke-linejoin="round"><tspan stroke="#000">of planning video scene layouts from an input</tspan></text>
<text x="2405.6" y="286.2" font-size="37" font-family="Liberation Sans, sans-serif" textLength="331.0" lengthAdjust="spacingAndGlyphs" fill="#000" stroke-width="0.55" stroke-linejoin="round"><tspan stroke="#000">audio recordings...”</tspan></text>
<rect x="2389.3" y="338.3" width="842.7" height="289.7" rx="18" fill="#fff" stroke="#1595d1" stroke-width="2" />
<path d="M2448.52 430.04 V420.20 Q2448.52 416.00 2442.71 414.78 A24.30 24.30 0 1 1 2473.29 414.78 Q2467.48 416.00 2467.48 420.20 V430.04" fill="none" stroke="#000" stroke-width="3.0" stroke-linecap="round" stroke-linejoin="round"/><path d="M2448.52 422.99H2467.48 M2448.52 430.04 H2467.48 M2448.52 430.04 Q2448.52 438.18 2454.68 438.18 H2461.32 Q2467.48 438.18 2467.48 430.04" fill="none" stroke="#000" stroke-width="3.0" stroke-linecap="round"/><path d="M2458.00 363.58L2458.00 357.75M2480.85 373.05L2484.98 368.92M2435.15 373.05L2431.02 368.92M2490.32 395.90L2496.15 395.90M2425.68 395.90L2419.85 395.90M2480.85 418.75L2484.98 422.88M2435.15 418.75L2431.02 422.88" stroke="#000" stroke-width="3.0" stroke-linecap="round" fill="none"/><g transform="translate(2458.00,395.90) scale(1.0000)"><path d="M-6.3 -5.2A6.6 6.6 0 1 1 4.5 -0.1Q0.3 1.8 0.3 5V7.3" fill="none" stroke="#000" stroke-width="3.00" stroke-linecap="round"/><circle cx="0.2" cy="12.7" r="1.86" fill="#000"/></g>
<text x="2811.8" y="404.2" font-size="44.5" font-family="Liberation Sans, sans-serif" text-anchor="middle" textLength="209.0" lengthAdjust="spacingAndGlyphs" fill="#000"  stroke="#000" stroke-width="0.25" stroke-linejoin="round">Reasoning</text>
<text x="2404.9" y="500.7" font-size="37" font-family="Liberation Sans, sans-serif" textLength="782.2" lengthAdjust="spacingAndGlyphs" fill="#000" stroke-width="0.55" stroke-linejoin="round"><tspan stroke="#000">“For </tspan><tspan fill="#e97132" stroke="#e97132">piano</tspan><tspan stroke="#000">, the sound is </tspan><tspan font-weight="bold" font-style="italic" stroke="none">consistently loud on</tspan></text>
<text x="2404.9" y="548.3" font-size="37" font-family="Liberation Sans, sans-serif" textLength="777.0" lengthAdjust="spacingAndGlyphs" fill="#000" stroke-width="0.55" stroke-linejoin="round"><tspan font-weight="bold" font-style="italic" stroke="none">the left</tspan><tspan stroke="#000">..., it is likely located to the </tspan><tspan font-weight="bold" font-style="italic" stroke="none">left side</tspan><tspan stroke="#000"> of</tspan></text>
<text x="2404.9" y="596.2" font-size="37" font-family="Liberation Sans, sans-serif" textLength="649.0" lengthAdjust="spacingAndGlyphs" fill="#000" stroke-width="0.55" stroke-linejoin="round"><tspan stroke="#000">the frames. For </tspan><tspan fill="#4ea72e" stroke="#4ea72e">woman</tspan><tspan stroke="#000">, her voice is...”</tspan></text>
<rect x="2389.3" y="648.5" width="842.7" height="768.5" rx="24" fill="#fff" stroke="#1595d1" stroke-width="2" />
<text x="2811.0" y="711.5" font-size="44.5" font-family="Liberation Sans, sans-serif" text-anchor="middle" textLength="403.0" lengthAdjust="spacingAndGlyphs" fill="#000"  stroke="#000" stroke-width="0.25" stroke-linejoin="round">Visual Scene Layout</text>
<rect x="2421.35" y="759.60" width="60.30" height="49.70" rx="5.5" fill="none" stroke="#000" stroke-width="3.1"/><path d="M2427.92 792.60H2435.34M2443.15 792.60H2475.32M2427.92 800.40H2452.22M2460.67 800.40H2475.32" stroke="#000" stroke-width="3.26" fill="none" stroke-linecap="round"/>
<text x="2505.0" y="809.7" font-size="37" font-family="Liberation Sans, sans-serif" textLength="618.5" lengthAdjust="spacingAndGlyphs" fill="#000" stroke-width="0.55" stroke-linejoin="round"><tspan stroke="#000">Video caption: “A person is playing a</tspan></text>
<text x="2407.5" y="857.3" font-size="37" font-family="Liberation Sans, sans-serif" textLength="760.0" lengthAdjust="spacingAndGlyphs" fill="#000" stroke-width="0.55" stroke-linejoin="round"><tspan fill="#e97132" stroke="#e97132">piano</tspan><tspan stroke="#000"> on the left while a </tspan><tspan fill="#4ea72e" stroke="#4ea72e">woman</tspan><tspan stroke="#000"> is singing on</tspan></text>
<text x="2407.5" y="904.8" font-size="37" font-family="Liberation Sans, sans-serif" textLength="350.5" lengthAdjust="spacingAndGlyphs" fill="#000" stroke-width="0.55" stroke-linejoin="round"><tspan stroke="#000">the right of a studio.”</tspan></text>
<text x="2407.5" y="1001.0" font-size="37" font-family="Liberation Sans, sans-serif" textLength="148.0" lengthAdjust="spacingAndGlyphs" fill="#000" stroke-width="0.55" stroke-linejoin="round"><tspan stroke="#000">Frame 1:</tspan></text>
<text x="2456.0" y="1049.0" font-size="37" font-family="Liberation Sans, sans-serif" textLength="146.0" lengthAdjust="spacingAndGlyphs" fill="#000" stroke-width="0.55" stroke-linejoin="round"><tspan stroke="#000">Layout: [</tspan></text>
<text x="2501.6" y="1096.6" font-size="37" font-family="Liberation Sans, sans-serif" textLength="214.0" lengthAdjust="spacingAndGlyphs" fill="#000" stroke-width="0.55" stroke-linejoin="round"><tspan stroke="#000">{id: 0, name:</tspan></text>
<text x="2727.3" y="1096.6" font-size="37" font-family="Liberation Sans, sans-serif" textLength="93.2" lengthAdjust="spacingAndGlyphs" fill="#000" stroke-width="0.55" stroke-linejoin="round"><tspan fill="#e97132" stroke="#e97132">piano</tspan></text>
<text x="2823.4" y="1096.6" font-size="37" font-family="Liberation Sans, sans-serif" fill="#000" stroke-width="0.55" stroke-linejoin="round"><tspan stroke="#000">,</tspan></text>
<text x="2851.0" y="1096.6" font-size="37" font-family="Liberation Sans, sans-serif" textLength="68.4" lengthAdjust="spacingAndGlyphs" fill="#000" stroke-width="0.55" stroke-linejoin="round"><tspan stroke="#000">box:</tspan></text>
<text x="2931.2" y="1096.6" font-size="39" font-family="Liberation Serif, serif" stroke="#000" stroke-width="0.55" stroke-linejoin="round">[</text>
<text x="2945.2" y="1096.6" font-size="39" font-family="Liberation Serif, serif" font-style="italic" textLength="17.5" lengthAdjust="spacingAndGlyphs" stroke="#000" stroke-width="0.55" stroke-linejoin="round">x</text>
<text x="2964.0" y="1105.6" font-size="27" font-family="Liberation Serif, serif" textLength="12.5" lengthAdjust="spacingAndGlyphs" stroke="#000" stroke-width="0.55" stroke-linejoin="round">1</text>
<text x="2979.5" y="1096.6" font-size="39" font-family="Liberation Serif, serif" stroke="#000" stroke-width="0.55" stroke-linejoin="round">,</text>
<text x="2996.3" y="1096.6" font-size="39" font-family="Liberation Serif, serif" font-style="italic" textLength="20.2" lengthAdjust="spacingAndGlyphs" stroke="#000" stroke-width="0.55" stroke-linejoin="round">y</text>
<text x="3019.3" y="1105.6" font-size="27" font-family="Liberation Serif, serif" textLength="12.5" lengthAdjust="spacingAndGlyphs" stroke="#000" stroke-width="0.55" stroke-linejoin="round">1</text>
<text x="3034.8" y="1096.6" font-size="39" font-family="Liberation Serif, serif" stroke="#000" stroke-width="0.55" stroke-linejoin="round">,</text>
<text x="3050.2" y="1096.6" font-size="39" font-family="Liberation Serif, serif" font-style="italic" textLength="17.5" lengthAdjust="spacingAndGlyphs" stroke="#000" stroke-width="0.55" stroke-linejoin="round">x</text>
<text x="3070.2" y="1105.6" font-size="27" font-family="Liberation Serif, serif" textLength="12.5" lengthAdjust="spacingAndGlyphs" stroke="#000" stroke-width="0.55" stroke-linejoin="round">2</text>
<text x="3087.2" y="1096.6" font-size="39" font-family="Liberation Serif, serif" stroke="#000" stroke-width="0.55" stroke-linejoin="round">,</text>
<text x="3102.6" y="1096.6" font-size="39" font-family="Liberation Serif, serif" font-style="italic" textLength="20.2" lengthAdjust="spacingAndGlyphs" stroke="#000" stroke-width="0.55" stroke-linejoin="round">y</text>
<text x="3125.6" y="1105.6" font-size="27" font-family="Liberation Serif, serif" textLength="12.5" lengthAdjust="spacingAndGlyphs" stroke="#000" stroke-width="0.55" stroke-linejoin="round">2</text>
<text x="3140.6" y="1096.6" font-size="39" font-family="Liberation Serif, serif" stroke="#000" stroke-width="0.55" stroke-linejoin="round">]</text>
<text x="3156.7" y="1096.6" font-size="37" font-family="Liberation Sans, sans-serif" textLength="19.0" lengthAdjust="spacingAndGlyphs" fill="#000" stroke-width="0.55" stroke-linejoin="round"><tspan stroke="#000">},</tspan></text>
<text x="2501.6" y="1144.5" font-size="37" font-family="Liberation Sans, sans-serif" textLength="214.0" lengthAdjust="spacingAndGlyphs" fill="#000" stroke-width="0.55" stroke-linejoin="round"><tspan stroke="#000">{id: 1, name:</tspan></text>
<text x="2726.4" y="1144.5" font-size="37" font-family="Liberation Sans, sans-serif" textLength="124.6" lengthAdjust="spacingAndGlyphs" fill="#000" stroke-width="0.55" stroke-linejoin="round"><tspan fill="#4ea72e" stroke="#4ea72e">woman</tspan></text>
<text x="2854.5" y="1144.5" font-size="37" font-family="Liberation Sans, sans-serif" fill="#000" stroke-width="0.55" stroke-linejoin="round"><tspan stroke="#000">,</tspan></text>
<text x="2883.1" y="1144.5" font-size="37" font-family="Liberation Sans, sans-serif" textLength="68.4" lengthAdjust="spacingAndGlyphs" fill="#000" stroke-width="0.55" stroke-linejoin="round"><tspan stroke="#000">box:</tspan></text>
<text x="2963.3" y="1144.5" font-size="39" font-family="Liberation Serif, serif" stroke="#000" stroke-width="0.55" stroke-linejoin="round">[</text>
<text x="2977.3" y="1144.5" font-size="39" font-family="Liberation Serif, serif" font-style="italic" textLength="17.5" lengthAdjust="spacingAndGlyphs" stroke="#000" stroke-width="0.55" stroke-linejoin="round">x</text>
<text x="2996.1" y="1153.5" font-size="27" font-family="Liberation Serif, serif" textLength="12.5" lengthAdjust="spacingAndGlyphs" stroke="#000" stroke-width="0.55" stroke-linejoin="round">1</text>
<text x="3011.6" y="1144.5" font-size="39" font-family="Liberation Serif, serif" stroke="#000" stroke-width="0.55" stroke-linejoin="round">,</text>
<text x="3028.4" y="1144.5" font-size="39" font-family="Liberation Serif, serif" font-style="italic" textLength="20.2" lengthAdjust="spacingAndGlyphs" stroke="#000" stroke-width="0.55" stroke-linejoin="round">y</text>
<text x="3051.4" y="1153.5" font-size="27" font-family="Liberation Serif, serif" textLength="12.5" lengthAdjust="spacingAndGlyphs" stroke="#000" stroke-width="0.55" stroke-linejoin="round">1</text>
<text x="3066.9" y="1144.5" font-size="39" font-family="Liberation Serif, serif" stroke="#000" stroke-width="0.55" stroke-linejoin="round">,</text>
<text x="3082.3" y="1144.5" font-size="39" font-family="Liberation Serif, serif" font-style="italic" textLength="17.5" lengthAdjust="spacingAndGlyphs" stroke="#000" stroke-width="0.55" stroke-linejoin="round">x</text>
<text x="3102.3" y="1153.5" font-size="27" font-family="Liberation Serif, serif" textLength="12.5" lengthAdjust="spacingAndGlyphs" stroke="#000" stroke-width="0.55" stroke-linejoin="round">2</text>
<text x="3119.3" y="1144.5" font-size="39" font-family="Liberation Serif, serif" stroke="#000" stroke-width="0.55" stroke-linejoin="round">,</text>
<text x="3134.7" y="1144.5" font-size="39" font-family="Liberation Serif, serif" font-style="italic" textLength="20.2" lengthAdjust="spacingAndGlyphs" stroke="#000" stroke-width="0.55" stroke-linejoin="round">y</text>
<text x="3157.7" y="1153.5" font-size="27" font-family="Liberation Serif, serif" textLength="12.5" lengthAdjust="spacingAndGlyphs" stroke="#000" stroke-width="0.55" stroke-linejoin="round">2</text>
<text x="3172.7" y="1144.5" font-size="39" font-family="Liberation Serif, serif" stroke="#000" stroke-width="0.55" stroke-linejoin="round">]</text>
<text x="3188.8" y="1144.5" font-size="37" font-family="Liberation Sans, sans-serif" textLength="19.0" lengthAdjust="spacingAndGlyphs" fill="#000" stroke-width="0.55" stroke-linejoin="round"><tspan stroke="#000">},</tspan></text>
<text x="2456.0" y="1192.3" font-size="37" font-family="Liberation Sans, sans-serif" textLength="19.4" lengthAdjust="spacingAndGlyphs" fill="#000" stroke-width="0.55" stroke-linejoin="round"><tspan stroke="#000">],</tspan></text>
<rect x="2415.60" y="1215.50" width="61.65" height="50.00" rx="15" fill="#fff" stroke="#000" stroke-width="4.85"/><path d="M2425.09 1240.35H2449.69M2462.52 1240.35H2468.50M2425.09 1252.90H2430.89M2443.77 1252.90H2468.50" stroke="#000" stroke-width="4.85" fill="none" stroke-linecap="round"/>
<text x="2504.0" y="1240.3" font-size="37" font-family="Liberation Sans, sans-serif" textLength="662.4" lengthAdjust="spacingAndGlyphs" fill="#000" stroke-width="0.55" stroke-linejoin="round"><tspan stroke="#000">Frame caption: “In a studio, a pianist is</tspan></text>
<text x="2504.0" y="1288.2" font-size="37" font-family="Liberation Sans, sans-serif" textLength="618.2" lengthAdjust="spacingAndGlyphs" fill="#000" stroke-width="0.55" stroke-linejoin="round"><tspan stroke="#000">sitting at the </tspan><tspan fill="#e97132" stroke="#e97132">piano</tspan><tspan stroke="#000"> while a </tspan><tspan fill="#4ea72e" stroke="#4ea72e">woman</tspan><tspan stroke="#000"> is</tspan></text>
<text x="2504.0" y="1336.0" font-size="37" font-family="Liberation Sans, sans-serif" textLength="631.8" lengthAdjust="spacingAndGlyphs" fill="#000" stroke-width="0.55" stroke-linejoin="round"><tspan stroke="#000">holding the microphone, preparing to</tspan></text>
<text x="2504.0" y="1384.0" font-size="37" font-family="Liberation Sans, sans-serif" textLength="417.6" lengthAdjust="spacingAndGlyphs" fill="#000" stroke-width="0.55" stroke-linejoin="round"><tspan stroke="#000">start their performance.”</tspan></text>
</svg>
</body></html>
